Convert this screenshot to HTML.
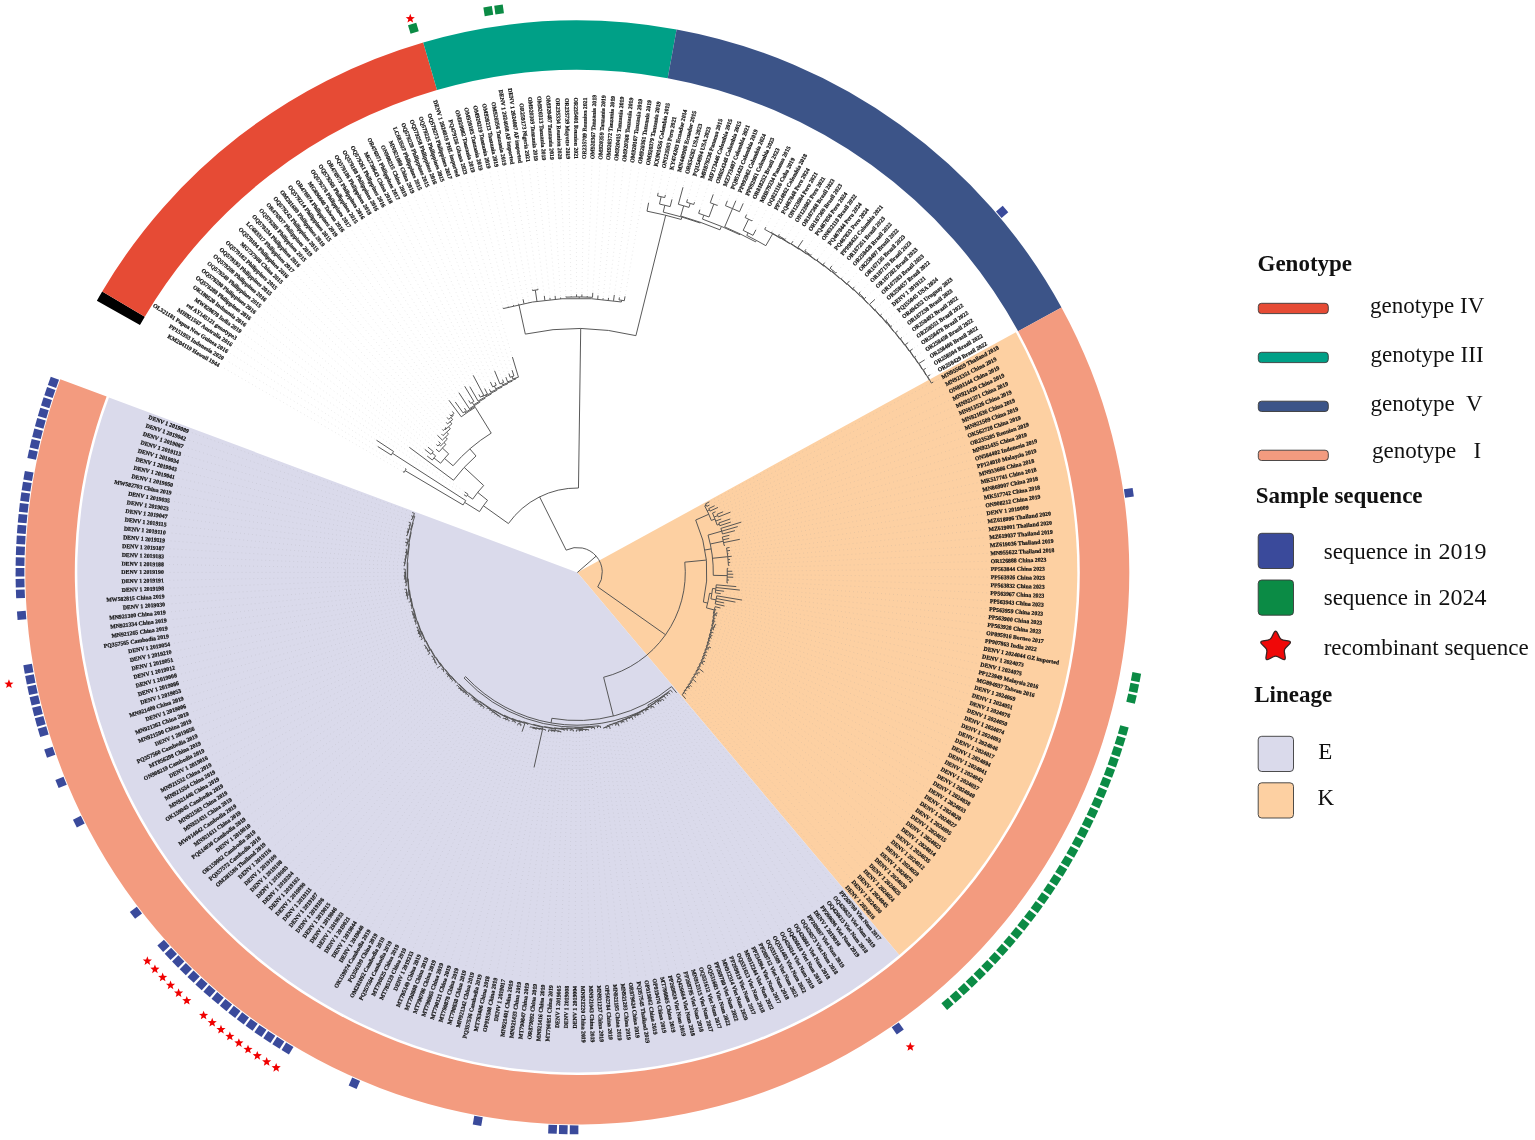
<!DOCTYPE html>
<html><head><meta charset="utf-8"><title>DENV-1 phylogenetic tree</title>
<style>
html,body{margin:0;padding:0;background:#fff;}
body{width:1535px;height:1140px;overflow:hidden;position:relative;}
svg{position:absolute;left:0;top:0;}
</style></head><body>
<svg width="1535" height="1140" viewBox="0 0 1535 1140">
<path d="M577.3,572.5 L1015.87,332.37 A500,500 0 0 1 899.27,955.04 Z" fill="#fdd0a2"/>
<path d="M577.3,572.5 L899.27,955.04 A500,500 0 0 1 108.96,397.4 Z" fill="#dadaeb"/>
<path d="M96.86,300.68 A552,552 0 0 1 102.21,291.45 L144.81,316.65 A502.5,502.5 0 0 0 139.95,325.06 Z" fill="#000000"/>
<path d="M102.21,291.45 A552,552 0 0 1 423.21,42.44 L437.02,89.98 A502.5,502.5 0 0 0 144.81,316.65 Z" fill="#e64b35"/>
<path d="M423.21,42.44 A552,552 0 0 1 676.61,29.51 L667.7,78.2 A502.5,502.5 0 0 0 437.02,89.98 Z" fill="#00a087"/>
<path d="M676.61,29.51 A552,552 0 0 1 1061.48,307.4 L1018.06,331.17 A502.5,502.5 0 0 0 667.7,78.2 Z" fill="#3c5488"/>
<path d="M1061.48,307.4 A552,552 0 1 1 60.26,379.19 L106.62,396.52 A502.5,502.5 0 1 0 1018.06,331.17 Z" fill="#f39b7f"/>
<path d="M401.59,470.84L221.99,366.92M404.02,467.72L226.03,360.09M376.48,445.7L230.2,353.34M375.21,439.37L234.5,346.67M462.72,493.8L238.93,340.09M463.45,491.02L243.48,333.6M408.12,446.41L248.16,327.19M425.99,455.12L252.96,320.88M423.62,448.45L257.88,314.66M426.81,446.14L262.93,308.53M434.85,448.12L268.09,302.51M435.24,443.54L273.36,296.58M437.42,440.5L278.75,290.76M436.35,434.24L284.25,285.04M440.35,432.87L289.86,279.43M441.24,428.31L295.58,273.93M444.37,426.05L301.4,268.55M445.17,421.16L307.32,263.27M446.08,416.21L313.35,258.11M448.88,413.39L319.47,253.07M451.43,410.24L325.69,248.15M447.99,398.98L332.01,243.35M454.4,400.74L338.42,238.67M463.53,406.84L344.91,234.11M458.04,391.45L351.49,229.69M467.87,399.16L358.16,225.39M463.94,385.01L364.91,221.22M469.04,385.36L371.74,217.18M478.09,393.11L378.64,213.27M472.47,373.98L385.62,209.5M483.96,387.15L392.67,205.86M488.8,387.96L399.79,202.36M489.77,380.57L406.98,199M494.36,380.89L414.23,195.78M494.01,369.42L421.54,192.7M501.97,378.22L428.9,189.76M505.34,375.7L436.33,186.97M508.39,372.13L443.8,184.31M511.6,368.73L451.33,181.81M511.97,355.63L458.9,179.44M502.68,306.26L466.52,177.23M507.92,305.16L474.18,175.16M513,303.48L481.88,173.24M518.21,302.28L489.61,171.48M522.76,297.76L497.38,169.86M528.77,300.6L505.17,168.39M532.18,288.06L512.99,167.07M537.69,287.24L520.84,165.9M544.14,294.37L528.71,164.89M549.78,296.37L536.59,164.02M555,294.39L544.5,163.31M560.5,296.01L552.41,162.76M565.82,295.04L560.33,162.35M571.18,294.87L568.26,162.1M576.55,292.9L576.19,162M581.95,292.94L584.13,162.06M587.3,294.58L592.06,162.27M592.86,291.33L599.98,162.63M598.12,293.98L607.9,163.14M603.28,296.72L615.8,163.81M608.71,296.38L623.69,164.63M614.51,293.47L631.56,165.6M619.64,295.92L639.42,166.73M625.3,294.92L647.25,168M648.91,201.24L655.05,169.43M658.49,191.35L662.82,171.01M665.73,193.48L670.57,172.74M672.37,197.88L678.27,174.61M683.43,185.8L685.94,176.64M687.94,197.9L693.57,178.81M694.94,200.77L701.16,181.13M700.38,208.23L708.7,183.6M713.75,192.99L716.19,186.21M718.1,203.45L723.63,188.97M727.98,199.38L731.01,191.87M736.46,199.32L738.34,194.91M743.84,202.01L745.61,198.09M747.25,213.16L752.81,201.41M753.05,218.75L759.95,204.87M756.62,228.42L767.02,208.47M766.59,225.81L774.02,212.2M772.73,230.45L780.94,216.07M780.1,232.95L787.79,220.08M786.41,237.27L794.56,224.21M793.78,239.95L801.25,228.47M803.7,238.99L807.86,232.86M806.85,248.03L814.38,237.38M812.46,253.36L820.81,242.03M818.96,257.47L827.15,246.79M825.63,261.42L833.4,251.68M832.96,264.63L839.55,256.69M837.6,271.08L845.6,261.82M842.91,276.69L851.56,267.06M850.53,279.79L857.41,272.42M855.54,285.74L863.16,277.89M861.43,290.77L868.8,283.47M867.03,296.12L874.33,289.15M876.08,298.31L879.75,294.95M876.9,308.04L885.05,300.84M882.84,313.13L890.25,306.84M888.13,318.81L895.32,312.94M893.09,324.77L900.28,319.13M898.9,330.1L905.11,325.42M903.2,336.6L909.83,331.8M909.42,341.74L914.42,338.27M913.95,348.11L918.88,344.83M917.07,355.4L923.21,351.47M925.98,359.08L927.42,358.2M927.05,367.61L931.5,365M931.59,374.04L935.44,371.89M934.51,381.38L939.25,378.84M710.71,501.12L939.25,378.84M710.9,504.31L942.92,385.88M715.97,505.06L946.46,392.98M719.34,506.79L949.86,400.14M716.92,511.16L953.12,407.37M724.54,511.17L956.24,414.67M731.93,511.57L959.22,422.02M722.67,518.44L962.06,429.43M731.72,518.45L964.75,436.89M732.26,521.6L967.3,444.4M742.77,521.67L969.7,451.96M739.2,526.17L971.96,459.57M736.39,530.28L974.07,467.22M730.87,534.91L976.03,474.9M730.69,538.08L977.84,482.63M741.32,539.01L979.5,490.38M726.49,545.03L981.01,498.17M731.04,547.26L982.38,505.99M731.5,550.23L983.59,513.83M729.92,553.46L984.64,521.69M733.24,556.1L985.55,529.57M731.54,559.29L986.3,537.47M731.76,562.27L986.9,545.38M730.93,565.3L987.35,553.3M729.74,568.31L987.65,561.22M733.79,571.22L987.79,569.16M734.79,574.26L987.77,577.09M734.73,577.3L987.61,585.02M730.61,580.15L987.29,592.95M729.44,583.04L986.82,600.86M737.77,586.74L986.19,608.77M741.34,590.25L985.42,616.67M725.59,591.45L984.49,624.55M722.23,593.88L983.41,632.4M743.59,600.32L982.17,640.24M736.93,602.39L980.79,648.05M725.65,603.26L979.25,655.83M726,606.34L977.57,663.59M721.92,608.36L975.73,671.3M717.65,610.2L973.75,678.99M718.99,613.51L971.62,686.63M718.4,616.31L969.34,694.22M716.8,618.79L966.91,701.78M716.66,621.75L964.34,709.28M717.63,625.17L961.63,716.74M716.58,627.87L958.77,724.14M715.43,630.52L955.77,731.48M714.83,633.42L952.62,738.76M713.78,636.14L949.34,745.98M712.96,638.98L945.92,753.14M711.68,641.61L942.36,760.23M711.05,644.58L938.66,767.25M712.26,648.64L934.83,774.2M709.83,650.68L930.87,781.07M708.54,653.38L926.77,787.86M708.03,656.59L922.54,794.57M706.72,659.33L918.19,801.2M706.33,662.73L913.7,807.75M704.82,665.4L909.1,814.21M702.3,667.31L904.36,820.57M704.67,673.04L899.51,826.85M701.03,674.11L894.53,833.03M698.74,676.23L889.44,839.11M696.91,678.73L884.23,845.09M697.27,683.27L878.9,850.97M693.47,684L873.47,856.75M692.75,687.67L867.92,862.42M690.55,689.92L862.26,867.98M687.94,691.75L856.5,873.43M686.93,695.34L850.63,878.77M686.66,699.91L844.66,883.99M677.55,693.97L838.59,889.1M673.37,693.6L832.43,894.09M670.99,695.41L826.16,898.96M668.64,697.25L819.81,903.71M666.75,699.75L813.36,908.33M664.73,702.14L806.83,912.83M661.64,702.92L800.21,917.2M659.67,705.45L793.51,921.45M656.63,706.24L786.72,925.56M654.96,709.38L779.86,929.54M651.77,709.89L772.93,933.39M649.17,711.44L765.91,937.1M646.48,712.8L758.83,940.68M644.16,714.97L751.69,944.12M641.27,715.96L744.47,947.42M638.62,717.49L737.2,950.58M635.97,719.05L729.86,953.6M633.5,721.15L722.47,956.48M629.99,720.46L715.02,959.21M627.7,723.16L707.52,961.8M624.7,723.86L699.97,964.24M621.76,724.75L692.38,966.54M619.38,727.67L684.75,968.69M616.04,727.11L677.07,970.69M612.84,726.96L669.36,972.54M610.44,730.41L661.61,974.25M607.17,729.9L653.83,975.8M604.07,730.16L646.02,977.21M600.85,729.52L638.19,978.46M597.76,729.58L630.33,979.56M594.82,730.78L622.46,980.51M591.68,730.21L614.56,981.31M588.75,732.15L606.66,981.95M585.65,732.23L598.74,982.44M582.58,732.66L590.81,982.78M579.48,733.04L582.88,982.96M576.38,733.22L574.95,982.99M573.28,733L567.02,982.87M570.2,732.31L559.09,982.6M567.09,732.56L551.17,982.17M563.99,732.43L543.26,981.59M560.71,734.04L535.36,980.85M557.59,733.69L527.47,979.96M554.44,733.57L519.61,978.93M551.33,733.1L511.77,977.74M548.08,733.39L503.95,976.39M545.1,732.17L496.16,974.9M533.73,768.92L488.4,973.26M538.82,731.39L480.67,971.46M535.6,731.19L472.98,969.52M532.54,730.36L465.32,967.43M529.59,729.18L457.71,965.2M527.2,726.28L450.15,962.81M521.5,733.16L442.63,960.28M520.07,727.54L435.16,957.61M516.95,726.78L427.75,954.79M514.39,724.58L420.39,951.83M511.5,723.25L413.09,948.72M508.23,722.75L405.85,945.48M505.21,721.66L398.67,942.1M502.34,720.24L391.56,938.58M499.33,719.08L384.52,934.92M496.51,717.55L377.55,931.13M493.85,715.75L370.66,927.2M490.84,714.53L363.85,923.14M488.73,711.86L357.11,918.95M485.88,710.39L350.46,914.63M482.37,709.84L343.89,910.18M479.65,708.1L337.41,905.61M477.3,705.85L331.01,900.91M474.86,703.73L324.71,896.09M472.35,701.73L318.51,891.15M470.06,699.45L312.4,886.09M466.94,698.14L306.39,880.91M464.77,695.72L300.48,875.62M462,693.95L294.67,870.21M459.46,691.92L288.97,864.69M457.18,689.62L283.38,859.07M455.37,686.86L277.9,853.34M453.64,684.08L272.53,847.5M450.51,682.53L267.27,841.56M448.59,679.91L262.13,835.51M446.03,677.81L257.1,829.38M444.54,674.86L252.2,823.14M441.96,672.73L247.42,816.81M440.05,670.1L242.76,810.39M435.94,668.97L238.22,803.88M434.64,665.86L233.82,797.29M432.71,663.18L229.54,790.61M431.4,660.12L225.39,783.85M429.99,657.14L221.37,777.01M426.54,655.29L217.48,770.09M425.81,651.92L213.73,763.1M424.03,649.11L210.12,756.04M422.54,646.15L206.64,748.91M422.86,642.37L203.3,741.71M419.43,640.28L200.1,734.45M417.54,637.47L197.04,727.13M416.35,634.36L194.12,719.76M415.53,631.11L191.35,712.33M415,627.78L188.72,704.84M413.74,624.7L186.23,697.31M412.58,621.58L183.89,689.73M411.39,618.47L181.7,682.1M410.74,615.2L179.66,674.44M409.95,611.97L177.76,666.74M409.65,608.64L176.02,659M408.98,605.39L174.42,651.23M407.18,602.34L172.97,643.43M405.4,599.24L171.68,635.6M404.32,596L170.54,627.75M403.88,592.65L169.54,619.88M402.82,589.36L168.7,611.99M403.72,585.9L168.02,604.09M403.2,582.56L167.48,596.17M402.28,579.22L167.1,588.25M402.18,575.84L166.87,580.32M402.45,572.45L166.8,572.39M401.98,569.06L166.88,564.45M402.07,565.68L167.11,556.52M401.99,562.28L167.5,548.6M402.76,558.93L168.03,540.69M403.35,555.59L168.73,532.78M403.71,552.23L169.57,524.9M404.14,548.88L170.57,517.03M404.21,545.48L171.71,509.18M403.58,541.93L173.01,501.35M404.43,538.62L174.46,493.55M404.72,535.2L176.06,485.78M405.18,531.8L177.81,478.04M406,528.49L179.71,470.34M407.17,525.26L181.76,462.68M407.26,521.73L183.96,455.06M409.59,518.87L186.3,447.48M409.74,515.33L188.79,439.94M410.7,512.04L191.42,432.46" fill="none" stroke="#9a9a9a" stroke-opacity="0.35" stroke-width="0.7" stroke-dasharray="0.8 3.2"/>
<path d="M577.3,572.5L596.17,556.1M566.15,550.13A25,25 0 0 1 597.73,586.91M566.15,550.13L539.6,496.88M508.42,523.55A84.5,84.5 0 0 1 578.48,488.01M508.42,523.55L483.4,505.77M479.5,511.62A115.2,115.2 0 0 1 487.52,500.32M479.5,511.62L464.64,502.38M463.09,504.94A132.7,132.7 0 0 1 465.78,500.57M463.09,504.94L405.16,470.67M404.19,472.34A200,200 0 0 1 406.16,469.01M404.19,472.34L402.89,471.59M406.16,469.01L405.3,468.49M465.78,500.57L392.42,453.25M391.28,455.05A220,220 0 0 1 393.58,451.47M391.28,455.05L377.75,446.5M393.58,451.47L376.46,440.2M487.52,500.32L477.7,492.42M472.66,499.13A127.8,127.8 0 0 1 483.68,485.5M472.66,499.13L467.25,495.34M466.51,496.41A134.4,134.4 0 0 1 468.01,494.28M466.51,496.41L463.96,494.65M468.01,494.28L464.67,491.9M483.68,485.5L464.2,467.4M453.5,480.23A154.4,154.4 0 0 1 476,455.97M453.5,480.23L409.32,447.31M476,455.97L469.84,448.88M453.05,465.76A163.8,163.8 0 0 1 491.23,433.14M453.05,465.76L444.56,458.46M440.6,463.24A175,175 0 0 1 448.68,453.83M440.6,463.24L433.96,457.93M432.32,460.02A183.5,183.5 0 0 1 435.64,455.87M432.32,460.02L427.18,456.04M435.64,455.87L432.16,453.01M431.01,454.41A188,188 0 0 1 433.32,451.61M431.01,454.41L424.79,449.39M433.32,451.61L427.96,447.11M448.68,453.83L442.43,448.07M439.08,451.81A183.5,183.5 0 0 1 445.9,444.42M439.08,451.81L435.98,449.11M445.9,444.42L443.93,442.5M440.61,445.98A186.25,186.25 0 0 1 447.33,439.1M440.61,445.98L439.19,444.66M437.96,446A188.2,188.2 0 0 1 440.43,443.33M437.96,446L436.35,444.54M440.43,443.33L438.51,441.53M447.33,439.1L445.41,437.13M442.38,440.15A189,189 0 0 1 448.51,434.18M442.38,440.15L437.42,435.29M448.51,434.18L446.63,432.16M443.03,435.6A191.75,191.75 0 0 1 450.32,428.82M443.03,435.6L441.4,433.94M450.32,428.82L448.5,426.76M445.19,429.75A194.5,194.5 0 0 1 451.88,423.84M445.19,429.75L444.66,429.18M443.28,430.47A195.28,195.28 0 0 1 446.05,427.91M443.28,430.47L442.27,429.4M446.05,427.91L445.38,427.17M451.88,423.84L450.1,421.74M447.57,423.91A197.25,197.25 0 0 1 452.67,419.61M447.57,423.91L446.16,422.29M452.67,419.61L450.93,417.48M448.7,419.33A200,200 0 0 1 453.19,415.66M448.7,419.33L447.05,417.36M453.19,415.66L452.46,414.74M450.94,415.95A201.18,201.18 0 0 1 453.99,413.54M450.94,415.95L449.82,414.56M453.99,413.54L452.35,411.42M491.23,433.14L475.25,407.27M461.26,416.78A194.2,194.2 0 0 1 475.25,407.27M461.26,416.78L448.89,400.18M470.65,410.2L470.12,409.38M465.26,412.68A195.18,195.18 0 0 1 475.07,406.23M465.26,412.68L464.64,411.8M463.09,412.9A196.26,196.26 0 0 1 466.2,410.72M463.09,412.9L455.27,401.96M466.2,410.72L464.38,408.07M475.07,406.23L474.56,405.4M469.4,408.68A196.16,196.16 0 0 1 479.82,402.27M469.4,408.68L458.87,392.7M479.82,402.27L479.33,401.42M473.68,404.79A197.14,197.14 0 0 1 485.1,398.25M473.68,404.79L472.21,402.42M470.57,403.45A199.92,199.92 0 0 1 473.86,401.42M470.57,403.45L468.67,400.43M473.86,401.42L464.71,386.29M485.1,398.25L484.64,397.38M478.09,401.01A198.12,198.12 0 0 1 491.33,394M478.09,401.01L469.79,386.66M491.33,394L490.91,393.12M485.18,395.99A199.1,199.1 0 0 1 496.72,390.44M485.18,395.99L484.83,395.31M482.27,396.67A199.87,199.87 0 0 1 487.41,393.99M482.27,396.67L482.03,396.23M480.33,397.16A200.37,200.37 0 0 1 483.74,395.32M480.33,397.16L478.82,394.42M483.74,395.32L473.17,375.3M487.41,393.99L484.64,388.49M496.72,390.44L496.32,389.54M490.78,392.09A200.08,200.08 0 0 1 501.94,387.16M490.78,392.09L489.44,389.31M501.94,387.16L501.57,386.25M495.65,388.77A201.06,201.06 0 0 1 507.57,383.92M495.65,388.77L494.43,386.03M492.63,386.84A204.05,204.05 0 0 1 496.24,385.24M492.63,386.84L490.4,381.93M496.24,385.24L494.95,382.27M507.57,383.92L507.23,383M502.45,384.84A202.04,202.04 0 0 1 512.06,381.28M502.45,384.84L501.78,383.17M499.95,383.91A203.84,203.84 0 0 1 503.61,382.45M499.95,383.91L494.58,370.8M503.61,382.45L502.52,379.62M512.06,381.28L511.74,380.36M507.58,381.83A203.02,203.02 0 0 1 515.93,378.98M507.58,381.83L505.86,377.11M515.93,378.98L515.64,378.04M512.83,378.96A204,204 0 0 1 518.46,377.17M512.83,378.96L512.05,376.62M510.16,377.26A206.47,206.47 0 0 1 513.94,375.99M510.16,377.26L508.88,373.55M513.94,375.99L512.06,370.16M518.46,377.17L512.41,357.06M578.48,488.01L580.71,328.52M525.32,334.1A244,244 0 0 1 635.92,335.65M525.32,334.1L518.91,304.69M503.33,308.57A274.1,274.1 0 0 1 621.39,301.97M503.33,308.57L503.09,307.7M508.44,307.19L508.29,306.61M513.58,305.91L513.35,304.94M518.75,304.73L518.53,303.75M523.93,303.65L523.06,299.23M529.14,302.66L529.03,302.07M536.98,301.38L535.3,290.11M532.58,290.52A285.5,285.5 0 0 1 538.03,289.71M532.58,290.52L532.42,289.54M538.03,289.71L537.9,288.72M544.85,300.33L544.32,295.86M550.12,299.75L549.93,297.86M555.4,299.28L555.12,295.89M560.68,298.9L560.59,297.51M579.21,298.41L579.22,296.91M565.91,297.14A275.6,275.6 0 0 1 592.53,297.32M565.91,297.14L565.88,296.54M571.23,296.97L571.22,296.37M576.56,296.9L576.55,294.4M581.88,296.94L581.92,294.44M587.21,297.08L587.24,296.08M592.53,297.32L592.78,292.83M597.73,299.16L598.01,295.47M603.01,299.61L603.14,298.21M608.28,300.16L608.54,297.87M613.53,300.81L614.31,294.96M621.39,301.97L621.67,300.29M619.03,299.88A275.8,275.8 0 0 1 624.29,300.73M619.03,299.88L619.41,297.4M624.29,300.73L625.04,296.4M635.92,335.65L665.7,215.28M647,211.16A368,368 0 0 1 681.21,219.47M647,211.16L648.63,202.72M681.21,219.47L681.91,217.08M663.22,212.1A370.5,370.5 0 0 1 700.32,223.02M663.22,212.1L664.84,205.29M659.51,204.06A377.5,377.5 0 0 1 670.16,206.6M659.51,204.06L661.15,196.74M657.51,195.95A385,385 0 0 1 664.77,197.57M657.51,195.95L658.18,192.82M664.77,197.57L665.39,194.94M670.16,206.6L672,199.33M700.32,223.02L700.55,222.36M680.72,216A371.2,371.2 0 0 1 720,229.83M680.72,216L683.67,205.82M678.35,204.31A381.8,381.8 0 0 1 688.98,207.4M678.35,204.31L683.03,187.25M688.98,207.4L690.21,203.38M686.63,202.31A386,386 0 0 1 693.77,204.49M686.63,202.31L687.51,199.34M693.77,204.49L694.49,202.2M720,229.83L721.42,226.41M702.44,219.1A374.9,374.9 0 0 1 739.98,234.74M702.44,219.1L703.84,215.14M698.65,213.35A379.1,379.1 0 0 1 709.01,217.01M698.65,213.35L699.9,209.65M709.01,217.01L713.8,204.07M710.24,202.77A392.9,392.9 0 0 1 717.36,205.41M710.24,202.77L713.25,194.4M717.36,205.41L717.57,204.85M739.98,234.74L740.33,234.02M724.69,226.92A375.7,375.7 0 0 1 755.63,241.82M724.69,226.92L732.49,208.61M725.43,205.68A395.6,395.6 0 0 1 739.5,211.68M725.43,205.68L727.42,200.77M732.49,208.61L735.87,200.7M739.5,211.68L743.23,203.38M755.63,241.82L756.39,240.41M746.81,235.42A377.3,377.3 0 0 1 765.83,245.68M746.81,235.42L748.11,232.83M743.17,230.39A380.2,380.2 0 0 1 753.01,235.34M743.17,230.39L748.58,219.23M745.16,217.59A392.6,392.6 0 0 1 751.98,220.9M745.16,217.59L746.61,214.52M751.98,220.9L752.38,220.1M753.01,235.34L755.93,229.75M765.83,245.68L772.67,233.81M764.67,229.32A391,391 0 0 1 780.56,238.49M764.67,229.32L765.87,227.12M780.56,238.49L780.79,238.11M771.49,232.63A391.44,391.44 0 0 1 789.94,243.86M771.49,232.63L771.98,231.76M789.94,243.86L790.18,243.49M781.48,238.02A391.88,391.88 0 0 1 798.73,249.18M781.48,238.02L781.76,237.57M778.51,235.61A392.41,392.41 0 0 1 784.99,239.56M778.51,235.61L779.33,234.24M784.99,239.56L785.62,238.55M798.73,249.18L798.98,248.82M791.33,243.71A392.31,392.31 0 0 1 806.5,254.1M791.33,243.71L792.97,241.2M806.5,254.1L806.75,253.75M797.89,247.55A392.75,392.75 0 0 1 815.44,260.19M797.89,247.55L802.86,240.23M815.44,260.19L815.71,259.84M807.47,253.73A393.19,393.19 0 0 1 823.78,266.16M807.47,253.73L807.9,253.13M804.81,250.92A393.92,393.92 0 0 1 810.98,255.37M804.81,250.92L805.98,249.26M810.98,255.37L811.57,254.57M823.78,266.16L824.06,265.82M816.88,260.18A393.62,393.62 0 0 1 831.1,271.63M816.88,260.18L818.05,258.66M831.1,271.63L831.38,271.29M823.14,264.53A394.06,394.06 0 0 1 839.44,278.28M823.14,264.53L824.69,262.59M839.44,278.28L839.73,277.95M832.25,271.45A394.5,394.5 0 0 1 847.05,284.63M832.25,271.45L832.97,270.6M830.04,268.14A395.62,395.62 0 0 1 835.88,273.08M830.04,268.14L832,265.78M835.88,273.08L836.62,272.22M847.05,284.63L847.34,284.31M841.16,278.64A394.94,394.94 0 0 1 853.41,290.12M841.16,278.64L841.91,277.8M853.41,290.12L853.71,289.8M847.09,283.47A395.38,395.38 0 0 1 860.19,296.29M847.09,283.47L849.51,280.88M860.19,296.29L860.5,295.98M852.93,288.43A395.81,395.81 0 0 1 867.87,303.73M852.93,288.43L854.49,286.82M867.87,303.73L868.19,303.44M861.36,296.23A396.25,396.25 0 0 1 874.84,310.81M861.36,296.23L861.73,295.87M859.04,293.13A396.77,396.77 0 0 1 864.39,298.63M859.04,293.13L860.37,291.82M864.39,298.63L865.94,297.15M874.84,310.81L875.17,310.52M869.57,304.28A396.69,396.69 0 0 1 880.64,316.87M869.57,304.28L874.97,299.33M880.64,316.87L880.98,316.59M875.03,309.69A397.12,397.12 0 0 1 886.77,323.62M875.03,309.69L875.78,309.03M886.77,323.62L887.11,323.35M880.38,315.21A397.56,397.56 0 0 1 893.61,331.66M880.38,315.21L881.69,314.1M893.61,331.66L893.96,331.4M888.05,323.83A398,398 0 0 1 899.68,339.1M888.05,323.83L888.36,323.59M885.94,320.59A398.39,398.39 0 0 1 890.75,326.6M885.94,320.59L886.97,319.76M890.75,326.6L891.91,325.69M899.68,339.1L900.04,338.85M895.48,332.68A398.44,398.44 0 0 1 904.47,345.1M895.48,332.68L897.7,331M904.47,345.1L904.83,344.85M900.41,338.62A398.88,398.88 0 0 1 909.14,351.18M900.41,338.62L901.98,337.48M909.14,351.18L909.5,350.93M905.23,344.65A399.31,399.31 0 0 1 913.66,357.29M905.23,344.65L908.19,342.59M913.66,357.29L914.03,357.06M909.93,350.79A399.75,399.75 0 0 1 918,363.4M909.93,350.79L912.71,348.94M918,363.4L918.37,363.17M914.52,357.02A400.19,400.19 0 0 1 922.11,369.38M914.52,357.02L915.8,356.21M922.11,369.38L922.49,369.16M919,363.35A400.62,400.62 0 0 1 925.87,375.03M919,363.35L924.7,359.86M925.87,375.03L926.26,374.81M923.35,369.77A401.06,401.06 0 0 1 929.08,379.89M923.35,369.77L925.76,368.36M929.08,379.89L929.47,379.68M927.59,376.28A401.5,401.5 0 0 1 931.31,383.09M927.59,376.28L930.28,374.78M931.31,383.09L933.18,382.09M597.73,586.91L665.55,634.75M684.8,562.15A108,108 0 0 1 603.61,677.25M684.8,562.15L706.2,560.09M695.7,520.03A129.5,129.5 0 0 1 703.38,602.07M695.7,520.03L708.77,514.24M704.74,505.89A143.8,143.8 0 0 1 711.34,520.43M704.74,505.89L706.16,505.15M705.5,503.91A145.4,145.4 0 0 1 706.81,506.4M705.5,503.91L709.38,501.83M706.81,506.4L709.57,504.99M707.22,510.86L709.39,509.84M708.78,508.56A146.2,146.2 0 0 1 709.99,511.11M708.78,508.56L714.62,505.72M709.99,511.11L717.98,507.42M711.34,520.43L714.98,519.02M712.52,513.09A147.7,147.7 0 0 1 717.17,525.06M712.52,513.09L715.54,511.76M714.19,517.03L717.71,515.6M717.15,514.25A151.5,151.5 0 0 1 718.25,516.96M717.15,514.25L723.15,511.75M718.25,516.96L730.53,512.12M715.74,521.02L721.27,518.97M717.17,525.06L719.35,524.32M718.88,522.95A150,150 0 0 1 719.81,525.69M718.88,522.95L730.3,518.95M719.81,525.69L730.83,522.07M704.83,550.01L711.23,548.88M708.05,535.09A136,136 0 0 1 713.27,575.33M708.05,535.09L721.7,531.18M720.88,528.4A150.2,150.2 0 0 1 722.48,533.98M720.88,528.4L741.34,522.11M721.7,531.18L737.76,526.58M722.48,533.98L734.94,530.67M710.28,544.01L723.29,541.22M722.32,537A149.3,149.3 0 0 1 724.13,545.47M722.32,537L729.41,535.27M722.98,539.81L729.22,538.41M723.58,542.63L739.85,539.31M724.13,545.47L725.02,545.3M712.55,558.28L727.77,556.68M726.6,547.98A151.3,151.3 0 0 1 728.43,565.42M726.6,547.98L729.56,547.5M727.05,550.87L730.02,550.45M727.44,553.77L728.43,553.65M727.77,556.68L731.75,556.26M728.05,559.59L730.04,559.42M728.27,562.5L730.26,562.37M728.43,565.42L729.43,565.38M713.27,575.33L727.27,575.63M727.24,568.38A150,150 0 0 1 726.94,582.86M727.24,568.38L728.24,568.35M727.3,571.28L732.29,571.24M727.29,574.18L733.29,574.24M727.23,577.07L733.23,577.26M727.11,579.97L729.11,580.07M726.94,582.86L727.94,582.93M703.38,602.07L707.66,603.08M709.57,593.32A133.9,133.9 0 0 1 706.45,607.85M709.57,593.32L711.84,593.68M712.56,588.46A136.2,136.2 0 0 1 710.92,598.86M712.56,588.46L715.84,588.85M716.25,584.83A139.5,139.5 0 0 1 715.31,592.86M716.25,584.83L736.28,586.6M715.99,587.51L739.85,590.09M715.67,590.19L724.11,591.26M715.31,592.86L720.75,593.66M710.92,598.86L716.03,599.87M716.76,595.83A141.4,141.4 0 0 1 715.18,603.88M716.76,595.83L742.11,600.07M716.28,598.52L735.45,602.11M715.76,601.21L724.18,602.95M715.18,603.88L724.54,606.01M706.45,607.85L714.26,609.98M715.13,606.68A142,142 0 0 1 713.32,613.27M715.13,606.68L720.47,608M713.32,613.27L714.11,613.51M715.24,609.55A142.83,142.83 0 0 1 712.88,617.43M715.24,609.55L716.2,609.81M712.88,617.43L713.66,617.69M714.9,613.77A143.65,143.65 0 0 1 712.31,621.57M714.9,613.77L716.01,614.1M716.4,612.76A144.81,144.81 0 0 1 715.6,615.44M716.4,612.76L717.55,613.09M715.6,615.44L716.97,615.87M712.31,621.57L713.09,621.85M714.43,618A144.48,144.48 0 0 1 711.64,625.66M714.43,618L715.38,618.32M711.64,625.66L712.41,625.96M714.3,620.92A145.3,145.3 0 0 1 710.34,630.93M714.3,620.92L715.24,621.25M710.34,630.93L711.09,631.27M712.83,627.14A146.13,146.13 0 0 1 709.23,635.34M712.83,627.14L713.72,627.49M714.5,625.51A147.09,147.09 0 0 1 712.91,629.46M714.5,625.51L714.78,625.62M715.29,624.29A147.39,147.39 0 0 1 714.26,626.94M715.29,624.29L716.22,624.64M714.26,626.94L715.19,627.31M712.91,629.46L714.05,629.94M709.23,635.34L709.97,635.7M711.66,632.02A146.96,146.96 0 0 1 708.18,639.33M711.66,632.02L713.45,632.81M708.18,639.33L708.92,639.7M710.63,636.25A147.78,147.78 0 0 1 707.12,643.12M710.63,636.25L710.91,636.38M711.52,635.09A148.09,148.09 0 0 1 710.28,637.67M711.52,635.09L712.42,635.51M710.28,637.67L711.61,638.32M707.12,643.12L707.85,643.51M709.46,640.46A148.61,148.61 0 0 1 706.16,646.52M709.46,640.46L710.35,640.92M706.16,646.52L706.88,646.93M708.85,643.4A149.43,149.43 0 0 1 704.82,650.41M708.85,643.4L709.73,643.87M704.82,650.41L705.52,650.84M707.45,647.59A150.26,150.26 0 0 1 703.51,654.05M707.45,647.59L708.41,648.15M709.14,646.88A151.37,151.37 0 0 1 707.68,649.41M709.14,646.88L710.96,647.9M707.68,649.41L708.54,649.92M703.51,654.05L704.2,654.5M705.92,651.77A151.09,151.09 0 0 1 702.42,657.19M705.92,651.77L707.26,652.59M702.42,657.19L703.1,657.65M705.06,654.68A151.91,151.91 0 0 1 701.07,660.58M705.06,654.68L706.77,655.78M701.07,660.58L701.75,661.06M704.14,657.6A152.74,152.74 0 0 1 699.26,664.45M704.14,657.6L705.47,658.49M699.26,664.45L699.92,664.94M702.29,661.72A153.57,153.57 0 0 1 697.47,668.11M702.29,661.72L702.87,662.13M703.73,660.91A154.27,154.27 0 0 1 701.99,663.34M703.73,660.91L705.1,661.87M701.99,663.34L703.61,664.52M697.47,668.11L698.12,668.62M700.31,665.8A154.39,154.39 0 0 1 695.86,671.39M700.31,665.8L701.11,666.41M695.86,671.39L696.5,671.92M699.13,668.67A155.22,155.22 0 0 1 693.77,675.1M699.13,668.67L703.49,672.12M693.77,675.1L694.39,675.64M696.93,672.69A156.04,156.04 0 0 1 691.79,678.53M696.93,672.69L697.82,673.44M698.79,672.27A157.21,157.21 0 0 1 696.84,674.6M698.79,672.27L699.87,673.16M696.84,674.6L697.6,675.25M691.79,678.53L692.4,679.09M694.59,676.67A156.87,156.87 0 0 1 690.15,681.46M694.59,676.67L695.79,677.73M690.15,681.46L690.74,682.04M693.16,679.48A157.7,157.7 0 0 1 688.27,684.54M693.16,679.48L696.17,682.25M688.27,684.54L688.85,685.13M691.67,682.27A158.52,158.52 0 0 1 685.96,687.92M691.67,682.27L692.39,682.96M685.96,687.92L686.52,688.53M689.02,686.12A159.35,159.35 0 0 1 683.98,690.87M689.02,686.12L689.51,686.63M690.61,685.54A160.05,160.05 0 0 1 688.41,687.71M690.61,685.54L691.68,686.61M688.41,687.71L689.5,688.85M683.98,690.87L684.53,691.49M686.24,689.92A160.17,160.17 0 0 1 682.79,693.03M686.24,689.92L686.92,690.65M682.79,693.03L683.34,693.65M684.5,692.62A161,161 0 0 1 682.16,694.67M684.5,692.62L685.93,694.22M682.16,694.67L685.68,698.77M603.61,677.25L613.36,716.04M671.51,686.65A148,148 0 0 1 551.85,718.3M671.51,686.65L676.6,692.82M551.85,718.3L551.05,722.93M648.99,707.33A152.7,152.7 0 0 1 465.62,676.64M648.99,707.33L647.81,705.12M670.65,690.17A150.2,150.2 0 0 1 647.81,705.12M670.65,690.17L672.44,692.43M663.1,695.78L663.35,696.15M667.47,693.18A150.65,150.65 0 0 1 659.14,698.98M667.47,693.18L667.73,693.53M668.89,692.65A151.08,151.08 0 0 1 666.56,694.4M668.89,692.65L670.09,694.22M666.56,694.4L667.76,696.04M659.14,698.98L659.38,699.35M664.19,696.11A151.09,151.09 0 0 1 654.45,702.41M664.19,696.11L665.89,698.53M654.45,702.41L654.68,702.79M658.97,700.15A151.54,151.54 0 0 1 650.3,705.3M658.97,700.15L659.5,700.97M661.35,699.76A152.52,152.52 0 0 1 657.63,702.15M661.35,699.76L661.52,700.01M662.75,699.19A152.82,152.82 0 0 1 660.28,700.82M662.75,699.19L663.89,700.9M660.28,700.82L660.83,701.66M657.63,702.15L658.88,704.17M650.3,705.3L650.51,705.69M654.84,703.22A151.98,151.98 0 0 1 646.11,708.02M654.84,703.22L655.87,704.95M646.11,708.02L646.31,708.41M651.23,705.8A152.43,152.43 0 0 1 641.3,710.85M651.23,705.8L651.89,706.98M653.18,706.25A153.78,153.78 0 0 1 650.58,707.69M653.18,706.25L654.22,708.08M650.58,707.69L651.06,708.57M641.3,710.85L641.48,711.25M646.23,708.96A152.88,152.88 0 0 1 636.66,713.38M646.23,708.96L646.7,709.89M648.03,709.22A153.93,153.93 0 0 1 645.37,710.56M648.03,709.22L648.49,710.1M645.37,710.56L645.81,711.45M636.66,713.38L636.83,713.79M642.43,711.3A153.32,153.32 0 0 1 631.14,716.06M642.43,711.3L643.52,713.62M631.14,716.06L631.3,716.48M636.51,714.41A153.77,153.77 0 0 1 626.01,718.35M636.51,714.41L636.7,714.88M638.76,714A154.27,154.27 0 0 1 634.63,715.72M638.76,714L638.88,714.28M640.25,713.67A154.57,154.57 0 0 1 637.51,714.86M640.25,713.67L640.66,714.59M637.51,714.86L638.04,716.11M634.63,715.72L635.41,717.66M626.01,718.35L626.15,718.77M630.44,717.27A154.22,154.22 0 0 1 621.83,720.15M630.44,717.27L630.56,717.6M631.96,717.08A154.56,154.56 0 0 1 629.16,718.11M631.96,717.08L632.97,719.75M629.16,718.11L629.49,719.05M621.83,720.15L621.96,720.57M626.36,719.17A154.66,154.66 0 0 1 617.51,721.84M626.36,719.17L627.22,721.74M617.51,721.84L617.63,722.27M622.22,720.96A155.11,155.11 0 0 1 613,723.44M622.22,720.96L622.51,721.92M623.95,721.47A156.11,156.11 0 0 1 621.06,722.35M623.95,721.47L624.25,722.43M621.06,722.35L621.34,723.31M613,723.44L613.1,723.88M616.56,723.02A155.55,155.55 0 0 1 609.62,724.66M616.56,723.02L616.83,724.04M618.29,723.65A156.61,156.61 0 0 1 615.36,724.42M618.29,723.65L618.99,726.23M615.36,724.42L615.67,725.66M609.62,724.66L609.71,725.1M612.28,724.53A156,156 0 0 1 607.12,725.62M612.28,724.53L612.51,725.5M607.12,725.62L607.34,726.72M609.57,726.26A157.11,157.11 0 0 1 605.1,727.14M609.57,726.26L610.13,728.94M605.1,727.14L605.15,727.43M606.65,727.15A157.41,157.41 0 0 1 603.65,727.69M606.65,727.15L606.89,728.43M603.65,727.69L603.82,728.68M465.62,676.64L464.09,678.07M598.78,725.8A154.8,154.8 0 0 1 464.09,678.07M598.78,725.8L598.85,726.27M600.33,726.05A155.27,155.27 0 0 1 597.36,726.47M600.33,726.05L600.63,728.04M597.36,726.47L597.57,728.09M583.74,727.17L583.76,727.72M592.9,727.07A155.35,155.35 0 0 1 574.61,727.83M592.9,727.07L592.95,727.57M594.45,727.41A155.86,155.86 0 0 1 591.45,727.72M594.45,727.41L594.65,729.29M591.45,727.72L591.54,728.71M574.61,727.83L574.6,728.39M582.81,728.31A155.91,155.91 0 0 1 566.4,728.03M582.81,728.31L582.85,729.55M587.02,729.34A157.15,157.15 0 0 1 578.68,729.64M587.02,729.34L587.04,729.64M588.56,729.54A157.45,157.45 0 0 1 585.52,729.73M588.56,729.54L588.64,730.65M585.52,729.73L585.58,730.73M578.68,729.64L578.68,729.94M580.96,729.9A157.45,157.45 0 0 1 576.4,729.94M580.96,729.9L580.97,730.2M582.49,730.16A157.75,157.75 0 0 1 579.45,730.23M582.49,730.16L582.53,731.16M579.45,730.23L579.46,731.54M576.4,729.94L576.39,731.72M566.4,728.03L566.36,728.58M571.87,728.87A156.46,156.46 0 0 1 560.87,728.1M571.87,728.87L571.83,729.87M573.36,729.92A157.47,157.47 0 0 1 570.31,729.81M573.36,729.92L573.32,731.51M570.31,729.81L570.27,730.81M560.87,728.1L560.81,728.65M567.3,729.2A157.02,157.02 0 0 1 554.34,727.83M567.3,729.2L567.19,731.06M554.34,727.83L554.26,728.38M564.23,729.53A157.57,157.57 0 0 1 544.38,726.6M564.23,729.53L564.12,730.93M544.38,726.6L544.26,727.14M555.46,729.11A158.13,158.13 0 0 1 533.24,724.37M555.46,729.11L555.25,730.56M559.46,731.09A159.59,159.59 0 0 1 551.06,729.92M559.46,731.09L559.43,731.39M560.96,731.55A159.89,159.89 0 0 1 557.89,731.21M560.96,731.55L560.86,732.55M557.89,731.21L557.77,732.2M551.06,729.92L551.01,730.21M553.3,730.58A159.89,159.89 0 0 1 548.73,729.81M553.3,730.58L553.26,730.87M554.79,731.1A160.19,160.19 0 0 1 551.73,730.63M554.79,731.1L554.65,732.09M551.73,730.63L551.57,731.62M548.73,729.81L548.35,731.92M533.24,724.37L533.09,724.9M542.84,727.4A158.68,158.68 0 0 1 523.51,721.79M542.84,727.4L542.47,729.05M545.6,729.71A160.38,160.38 0 0 1 539.36,728.33M545.6,729.71L545.4,730.69M539.36,728.33L539.29,728.62M542.5,729.37A160.68,160.68 0 0 1 536.09,727.8M542.5,729.37L534.05,767.46M536.09,727.8L536.01,728.09M539.41,728.96A160.98,160.98 0 0 1 532.64,727.16M539.41,728.96L539.17,729.93M532.64,727.16L532.56,727.45M534.81,728.08A161.28,161.28 0 0 1 530.32,726.78M534.81,728.08L534.73,728.37M536.24,728.77A161.58,161.58 0 0 1 533.22,727.95M536.24,728.77L535.98,729.74M533.22,727.95L532.95,728.91M530.32,726.78L530.03,727.74M523.51,721.79L523.33,722.31M527.98,723.91A159.24,159.24 0 0 1 518.73,720.58M527.98,723.91L527.67,724.86M518.73,720.58L518.52,721.09M524.88,723.45A159.79,159.79 0 0 1 512.28,718.47M524.88,723.45L522,731.74M512.28,718.47L512.05,718.97M520.33,722.39A160.35,160.35 0 0 1 503.98,715.1M520.33,722.39L519.7,724.02M521.17,724.57A162.1,162.1 0 0 1 518.24,723.46M521.17,724.57L520.59,726.14M518.24,723.46L517.49,725.38M503.98,715.1L503.72,715.6M514.36,720.58A160.9,160.9 0 0 1 493.48,709.85M514.36,720.58L514.08,721.24M515.52,721.84A161.62,161.62 0 0 1 512.65,720.62M515.52,721.84L514.96,723.2M512.65,720.62L512.1,721.88M493.48,709.85L493.19,710.32M507.74,718.21A161.46,161.46 0 0 1 479.52,700.99M507.74,718.21L507.14,719.48M509.28,720.48A162.87,162.87 0 0 1 505.01,718.45M509.28,720.48L508.86,721.39M505.01,718.45L504.88,718.71M506.3,719.41A163.17,163.17 0 0 1 503.47,718.01M506.3,719.41L505.86,720.31M503.47,718.01L503.02,718.9M479.52,700.99L479.19,701.43M490.31,709.18A162.01,162.01 0 0 1 468.75,692.77M490.31,709.18L490.15,709.45M492.72,711.06A162.33,162.33 0 0 1 487.6,707.79M492.72,711.06L492.57,711.31M495.1,712.82A162.63,162.63 0 0 1 490.07,709.75M495.1,712.82L494.94,713.08M497.33,714.45A162.93,162.93 0 0 1 492.58,711.67M497.33,714.45L497.19,714.72M499.26,715.86A163.23,163.23 0 0 1 495.13,713.54M499.26,715.86L499.11,716.13M500.5,716.87A163.53,163.53 0 0 1 497.73,715.36M500.5,716.87L500.03,717.76M497.73,715.36L497.24,716.24M495.13,713.54L494.6,714.45M492.58,711.67L491.62,713.25M490.07,709.75L489.53,710.6M487.6,707.79L486.7,709.14M468.75,692.77L468.38,693.18M478.51,701.61A162.57,162.57 0 0 1 458.96,683.96M478.51,701.61L478.02,702.25M482.46,705.54A163.38,163.38 0 0 1 473.69,698.82M482.46,705.54L482.29,705.78M484.23,707.14A163.68,163.68 0 0 1 480.37,704.39M484.23,707.14L483.22,708.6M480.37,704.39L480.19,704.63M481.47,705.56A163.98,163.98 0 0 1 478.92,703.69M481.47,705.56L480.52,706.88M478.92,703.69L478.2,704.65M473.69,698.82L473.5,699.06M475.34,700.55A163.68,163.68 0 0 1 471.68,697.54M475.34,700.55L475.16,700.78M476.4,701.76A163.98,163.98 0 0 1 473.92,699.79M476.4,701.76L475.79,702.55M473.92,699.79L473.29,700.56M471.68,697.54L471.03,698.3M458.96,683.96L458.55,684.34M466.79,692.49A163.12,163.12 0 0 1 450.92,675.63M466.79,692.49L466.15,693.18M469.02,695.76A164.07,164.07 0 0 1 463.34,690.53M469.02,695.76L467.93,697.01M463.34,690.53L463.13,690.75M466.46,693.87A164.37,164.37 0 0 1 459.89,687.53M466.46,693.87L465.78,694.61M459.89,687.53L459.68,687.74M462.21,690.27A164.67,164.67 0 0 1 457.2,685.15M462.21,690.27L462,690.48M463.72,692.14A164.97,164.97 0 0 1 460.3,688.8M463.72,692.14L463.03,692.87M460.3,688.8L460.09,689.01M461.22,690.14A165.27,165.27 0 0 1 458.97,687.87M461.22,690.14L460.52,690.85M458.97,687.87L458.25,688.57M457.2,685.15L456.47,685.84M450.92,675.63L450.49,675.98M455.78,682.15A163.68,163.68 0 0 1 445.51,669.56M455.78,682.15L454.75,683.08M445.51,669.56L445.06,669.89M450.2,676.5A164.23,164.23 0 0 1 440.27,663.02M450.2,676.5L449.73,676.89M451.77,679.33A164.84,164.84 0 0 1 447.73,674.4M451.77,679.33L451.54,679.53M452.58,680.74A165.14,165.14 0 0 1 450.51,678.31M452.58,680.74L451.65,681.55M450.51,678.31L449.74,678.95M447.73,674.4L447.5,674.59M448.49,675.84A165.14,165.14 0 0 1 446.52,673.33M448.49,675.84L447.2,676.88M446.52,673.33L445.73,673.94M440.27,663.02L439.8,663.33M443.93,669.29A164.79,164.79 0 0 1 435.94,657.19M443.93,669.29L443.02,669.95M443.97,671.24A165.91,165.91 0 0 1 442.09,668.65M443.97,671.24L443.17,671.84M442.09,668.65L441.27,669.23M435.94,657.19L435.47,657.48M440.73,665.7A165.34,165.34 0 0 1 430.7,648.96M440.73,665.7L437.17,668.12M430.7,648.96L430.21,649.22M434.87,657.57A165.9,165.9 0 0 1 426.03,640.61M434.87,657.57L433.59,658.34M435.06,660.75A167.4,167.4 0 0 1 432.16,655.89M435.06,660.75L434.8,660.91M436.1,662.97A167.7,167.7 0 0 1 433.54,658.84M436.1,662.97L435.85,663.13M436.73,664.49A168,168 0 0 1 434.98,661.76M436.73,664.49L435.89,665.04M434.98,661.76L433.98,662.38M433.54,658.84L432.68,659.35M432.16,655.89L431.29,656.39M426.03,640.61L425.52,640.84M430.07,650.14A166.45,166.45 0 0 1 421.57,631.26M430.07,650.14L428.48,650.98M429.82,653.48A168.25,168.25 0 0 1 427.17,648.45M429.82,653.48L427.86,654.57M427.17,648.45L426.9,648.59M428.02,650.76A168.55,168.55 0 0 1 425.82,646.4M428.02,650.76L427.13,651.22M425.82,646.4L425.55,646.53M426.27,647.99A168.85,168.85 0 0 1 424.84,645.06M426.27,647.99L425.37,648.44M424.84,645.06L423.89,645.51M421.57,631.26L421.05,631.46M425.14,641.34A167.01,167.01 0 0 1 417.59,621.34M425.14,641.34L424.23,641.75M417.59,621.34L417.06,621.5M421.55,634.31A167.56,167.56 0 0 1 413.62,608.37M421.55,634.31L420.54,634.71M422.33,639.04A168.66,168.66 0 0 1 418.87,630.33M422.33,639.04L420.81,639.69M418.87,630.33L418.59,630.43M419.88,633.87A168.96,168.96 0 0 1 417.37,626.97M419.88,633.87L419.61,633.98M420.51,636.26A169.26,169.26 0 0 1 418.73,631.69M420.51,636.26L418.93,636.9M418.73,631.69L418.45,631.79M419.03,633.32A169.56,169.56 0 0 1 417.88,630.25M419.03,633.32L417.75,633.82M417.88,630.25L416.94,630.6M417.37,626.97L416.42,627.29M413.62,608.37L413.08,608.49M415.62,618.56A168.12,168.12 0 0 1 411.17,598.28M415.62,618.56L414.92,618.76M415.96,622.28A168.84,168.84 0 0 1 413.95,615.22M415.96,622.28L415.68,622.37M416.16,623.93A169.14,169.14 0 0 1 415.2,620.8M416.16,623.93L415.17,624.24M415.2,620.8L414.01,621.16M413.95,615.22L413.66,615.29M414.3,617.66A169.14,169.14 0 0 1 413.06,612.92M414.3,617.66L412.84,618.06M413.06,612.92L412.77,612.99M413.17,614.58A169.44,169.44 0 0 1 412.38,611.4M413.17,614.58L412.2,614.83M412.38,611.4L411.41,611.63M411.17,598.28L410.62,598.37M412.08,606.45A168.67,168.67 0 0 1 409.56,590.23M412.08,606.45L411.75,606.51M412.09,608.11A169.01,169.01 0 0 1 411.43,604.91M412.09,608.11L411.11,608.32M411.43,604.91L410.45,605.1M409.56,590.23L409.01,590.29M410.62,601.74A169.23,169.23 0 0 1 408.19,578.75M410.62,601.74L408.66,602.08M408.19,578.75L407.64,578.77M409.01,594.94A169.78,169.78 0 0 1 407.81,562.54M409.01,594.94L407.34,595.17M407.87,598.86A171.47,171.47 0 0 1 406.89,591.47M407.87,598.86L406.88,599.01M406.89,591.47L406.59,591.5M406.88,593.97A171.77,171.77 0 0 1 406.33,589.02M406.88,593.97L406.58,594.01M406.8,595.66A172.07,172.07 0 0 1 406.38,592.36M406.8,595.66L405.81,595.79M406.38,592.36L405.37,592.48M406.33,589.02L404.31,589.22M407.81,562.54L407.26,562.51M407.2,581.4A170.34,170.34 0 0 1 409.41,543.74M407.2,581.4L406.08,581.46M406.36,585.69A171.45,171.45 0 0 1 405.91,577.22M406.36,585.69L405.21,585.78M405.91,577.22L405.61,577.22M405.83,582.4A171.75,171.75 0 0 1 405.55,572.04M405.83,582.4L404.7,582.47M405.55,572.04L405.25,572.04M405.26,574.95A172.05,172.05 0 0 1 405.28,569.13M405.26,574.95L404.96,574.95M405.02,577.45A172.35,172.35 0 0 1 404.95,572.45M405.02,577.45L404.72,577.46M404.77,579.12A172.65,172.65 0 0 1 404.68,575.79M404.77,579.12L403.78,579.16M404.68,575.79L403.68,575.81M404.95,572.45L403.95,572.45M405.28,569.13L403.48,569.09M409.41,543.74L408.86,543.64M407.31,554.94A170.89,170.89 0 0 1 411.16,532.48M407.31,554.94L406.24,554.83M405.88,558.76A171.97,171.97 0 0 1 406.69,550.91M405.88,558.76L405.58,558.73M405.38,561.64A172.27,172.27 0 0 1 405.84,555.83M405.38,561.64L405.08,561.62M404.94,564.12A172.57,172.57 0 0 1 405.25,559.13M404.94,564.12L404.64,564.1M404.56,565.77A172.87,172.87 0 0 1 404.73,562.44M404.56,565.77L403.56,565.73M404.73,562.44L403.49,562.36M405.25,559.13L404.25,559.05M405.84,555.83L404.85,555.74M406.69,550.91L406.4,550.87M406.19,552.52A172.27,172.27 0 0 1 406.61,549.22M406.19,552.52L405.2,552.41M406.61,549.22L405.62,549.09M411.16,532.48L410.62,532.35M408.6,541.97A171.45,171.45 0 0 1 413.2,522.85M408.6,541.97L407.67,541.8M407.24,544.26A172.39,172.39 0 0 1 408.13,539.35M407.24,544.26L406.94,544.21M406.68,545.86A172.69,172.69 0 0 1 407.23,542.57M406.68,545.86L405.69,545.71M407.23,542.57L405.06,542.19M408.13,539.35L405.9,538.91M413.2,522.85L412.67,522.69M410.82,529.29A172,172 0 0 1 414.78,516.17M410.82,529.29L409.11,528.85M408.01,533.33A173.77,173.77 0 0 1 410.32,524.4M408.01,533.33L407.71,533.27M407.16,535.73A174.07,174.07 0 0 1 408.3,530.81M407.16,535.73L406.18,535.52M408.3,530.81L408.01,530.74M407.61,532.38A174.37,174.37 0 0 1 408.42,529.11M407.61,532.38L406.64,532.15M408.42,529.11L407.45,528.86M410.32,524.4L410.04,524.31M409.58,525.93A174.07,174.07 0 0 1 410.51,522.7M409.58,525.93L408.62,525.66M410.51,522.7L408.69,522.16M414.78,516.17L413.58,515.76M412.77,518.13A173.28,173.28 0 0 1 414.42,513.39M412.77,518.13L412.49,518.04M411.97,519.63A173.58,173.58 0 0 1 413.02,516.45M411.97,519.63L411.02,519.33M413.02,516.45L411.16,515.81M414.42,513.39L412.11,512.55" fill="none" stroke="#505050" stroke-width="0.95" stroke-linecap="butt"/>
<g font-family="Liberation Serif, serif" font-weight="bold" font-size="5.8" fill="#141414" stroke="#141414" stroke-width="0.22">
<text transform="rotate(30.05 577.3 572.5)" x="163.8" y="572.5" dy="0.34em" text-anchor="end">KM204119 Hawaii 1944</text>
<text transform="rotate(31.16 577.3 572.5)" x="163.8" y="572.5" dy="0.34em" text-anchor="end">PP151953 Indonesia 2020</text>
<text transform="rotate(32.27 577.3 572.5)" x="163.8" y="572.5" dy="0.34em" text-anchor="end">OL321181 Papua New Guinea 2016</text>
<text transform="rotate(33.38 577.3 572.5)" x="163.8" y="572.5" dy="0.34em" text-anchor="end">MH921567 Australia 2016</text>
<text transform="rotate(34.48 577.3 572.5)" x="163.8" y="572.5" dy="0.34em" text-anchor="end">ref AY145121 genotype3</text>
<text transform="rotate(35.59 577.3 572.5)" x="163.8" y="572.5" dy="0.34em" text-anchor="end">MW828678 India 2019</text>
<text transform="rotate(36.7 577.3 572.5)" x="163.8" y="572.5" dy="0.34em" text-anchor="end">OK180520 Indonesia 2016</text>
<text transform="rotate(37.8 577.3 572.5)" x="163.8" y="572.5" dy="0.34em" text-anchor="end">OQ579288 Philippines 2016</text>
<text transform="rotate(38.91 577.3 572.5)" x="163.8" y="572.5" dy="0.34em" text-anchor="end">OQ579290 Philippines 2016</text>
<text transform="rotate(40.02 577.3 572.5)" x="163.8" y="572.5" dy="0.34em" text-anchor="end">OQ579249 Philippines 2015</text>
<text transform="rotate(41.13 577.3 572.5)" x="163.8" y="572.5" dy="0.34em" text-anchor="end">OQ579209 Philippines 2016</text>
<text transform="rotate(42.23 577.3 572.5)" x="163.8" y="572.5" dy="0.34em" text-anchor="end">OQ579193 Philippines 2015</text>
<text transform="rotate(43.34 577.3 572.5)" x="163.8" y="572.5" dy="0.34em" text-anchor="end">OQ579182 Philippines 2015</text>
<text transform="rotate(44.45 577.3 572.5)" x="163.8" y="572.5" dy="0.34em" text-anchor="end">MG737908 China 2015</text>
<text transform="rotate(45.56 577.3 572.5)" x="163.8" y="572.5" dy="0.34em" text-anchor="end">OQ579184 Philippines 2016</text>
<text transform="rotate(46.66 577.3 572.5)" x="163.8" y="572.5" dy="0.34em" text-anchor="end">LC683317 Philippines 2017</text>
<text transform="rotate(47.77 577.3 572.5)" x="163.8" y="572.5" dy="0.34em" text-anchor="end">OQ579234 Philippines 2016</text>
<text transform="rotate(48.88 577.3 572.5)" x="163.8" y="572.5" dy="0.34em" text-anchor="end">OQ579289 Philippines 2015</text>
<text transform="rotate(49.98 577.3 572.5)" x="163.8" y="572.5" dy="0.34em" text-anchor="end">OR476937 Philippines 2019</text>
<text transform="rotate(51.09 577.3 572.5)" x="163.8" y="572.5" dy="0.34em" text-anchor="end">OQ579242 Philippines 2015</text>
<text transform="rotate(52.2 577.3 572.5)" x="163.8" y="572.5" dy="0.34em" text-anchor="end">OM281689 Philippines 2019</text>
<text transform="rotate(53.31 577.3 572.5)" x="163.8" y="572.5" dy="0.34em" text-anchor="end">OQ579214 Philippines 2015</text>
<text transform="rotate(54.41 577.3 572.5)" x="163.8" y="572.5" dy="0.34em" text-anchor="end">OR476974 Philippines 2019</text>
<text transform="rotate(55.52 577.3 572.5)" x="163.8" y="572.5" dy="0.34em" text-anchor="end">MG894840 Taiwan 2016</text>
<text transform="rotate(56.63 577.3 572.5)" x="163.8" y="572.5" dy="0.34em" text-anchor="end">OQ579276 Philippines 2017</text>
<text transform="rotate(57.74 577.3 572.5)" x="163.8" y="572.5" dy="0.34em" text-anchor="end">OQ579266 Philippines 2015</text>
<text transform="rotate(58.84 577.3 572.5)" x="163.8" y="572.5" dy="0.34em" text-anchor="end">OR476973 Philippines 2016</text>
<text transform="rotate(59.95 577.3 572.5)" x="163.8" y="572.5" dy="0.34em" text-anchor="end">OQ579186 Philippines 2018</text>
<text transform="rotate(61.06 577.3 572.5)" x="163.8" y="572.5" dy="0.34em" text-anchor="end">OQ579188 Philippines 2016</text>
<text transform="rotate(62.16 577.3 572.5)" x="163.8" y="572.5" dy="0.34em" text-anchor="end">OQ579261 Philippines 2016</text>
<text transform="rotate(63.27 577.3 572.5)" x="163.8" y="572.5" dy="0.34em" text-anchor="end">MG730643 China 2018</text>
<text transform="rotate(64.38 577.3 572.5)" x="163.8" y="572.5" dy="0.34em" text-anchor="end">OR476971 Philippines 2017</text>
<text transform="rotate(65.49 577.3 572.5)" x="163.8" y="572.5" dy="0.34em" text-anchor="end">ON908215 China 2019</text>
<text transform="rotate(66.59 577.3 572.5)" x="163.8" y="572.5" dy="0.34em" text-anchor="end">MN921080 China 2019</text>
<text transform="rotate(67.7 577.3 572.5)" x="163.8" y="572.5" dy="0.34em" text-anchor="end">LC683507 Philippines 2015</text>
<text transform="rotate(68.81 577.3 572.5)" x="163.8" y="572.5" dy="0.34em" text-anchor="end">OQ579229 Philippines 2015</text>
<text transform="rotate(69.91 577.3 572.5)" x="163.8" y="572.5" dy="0.34em" text-anchor="end">OQ579258 Philippines 2016</text>
<text transform="rotate(71.02 577.3 572.5)" x="163.8" y="572.5" dy="0.34em" text-anchor="end">OQ579225 Philippines 2015</text>
<text transform="rotate(72.13 577.3 572.5)" x="163.8" y="572.5" dy="0.34em" text-anchor="end">OQ579273 Philippines 2017</text>
<text transform="rotate(73.24 577.3 572.5)" x="163.8" y="572.5" dy="0.34em" text-anchor="end">DENV 1 2024019 PHL imported</text>
<text transform="rotate(74.34 577.3 572.5)" x="163.8" y="572.5" dy="0.34em" text-anchor="end">PQ479156 Ghana 2023</text>
<text transform="rotate(75.45 577.3 572.5)" x="163.8" y="572.5" dy="0.34em" text-anchor="end">OM920082 Tanzania 2019</text>
<text transform="rotate(76.56 577.3 572.5)" x="163.8" y="572.5" dy="0.34em" text-anchor="end">OM920185 Tanzania 2019</text>
<text transform="rotate(77.67 577.3 572.5)" x="163.8" y="572.5" dy="0.34em" text-anchor="end">OM920219 Tanzania 2019</text>
<text transform="rotate(78.77 577.3 572.5)" x="163.8" y="572.5" dy="0.34em" text-anchor="end">OM920213 Tanzania 2019</text>
<text transform="rotate(79.88 577.3 572.5)" x="163.8" y="572.5" dy="0.34em" text-anchor="end">OM920356 Tanzania 2019</text>
<text transform="rotate(80.99 577.3 572.5)" x="163.8" y="572.5" dy="0.34em" text-anchor="end">DENV 1 2024008 AF imported</text>
<text transform="rotate(82.09 577.3 572.5)" x="163.8" y="572.5" dy="0.34em" text-anchor="end">DENV 1 2024007 AF imported</text>
<text transform="rotate(83.2 577.3 572.5)" x="163.8" y="572.5" dy="0.34em" text-anchor="end">OR259173 Nigeria 2021</text>
<text transform="rotate(84.31 577.3 572.5)" x="163.8" y="572.5" dy="0.34em" text-anchor="end">OM920309 Tanzania 2019</text>
<text transform="rotate(85.42 577.3 572.5)" x="163.8" y="572.5" dy="0.34em" text-anchor="end">OM920313 Tanzania 2019</text>
<text transform="rotate(86.52 577.3 572.5)" x="163.8" y="572.5" dy="0.34em" text-anchor="end">OM920487 Tanzania 2019</text>
<text transform="rotate(87.63 577.3 572.5)" x="163.8" y="572.5" dy="0.34em" text-anchor="end">OR235334 Reunion 2020</text>
<text transform="rotate(88.74 577.3 572.5)" x="163.8" y="572.5" dy="0.34em" text-anchor="end">OR235739 Mayotte 2019</text>
<text transform="rotate(89.85 577.3 572.5)" x="163.8" y="572.5" dy="0.34em" text-anchor="end">OR235401 Reunion 2021</text>
<text transform="rotate(270.95 577.3 572.5)" x="990.8" y="572.5" dy="0.34em">OR235709 Reunion 2021</text>
<text transform="rotate(272.06 577.3 572.5)" x="990.8" y="572.5" dy="0.34em">OM920367 Tanzania 2019</text>
<text transform="rotate(273.17 577.3 572.5)" x="990.8" y="572.5" dy="0.34em">OM920359 Tanzania 2019</text>
<text transform="rotate(274.27 577.3 572.5)" x="990.8" y="572.5" dy="0.34em">OM920372 Tanzania 2019</text>
<text transform="rotate(275.38 577.3 572.5)" x="990.8" y="572.5" dy="0.34em">OM920415 Tanzania 2019</text>
<text transform="rotate(276.49 577.3 572.5)" x="990.8" y="572.5" dy="0.34em">OM920368 Tanzania 2019</text>
<text transform="rotate(277.6 577.3 572.5)" x="990.8" y="572.5" dy="0.34em">OM920167 Tanzania 2019</text>
<text transform="rotate(278.7 577.3 572.5)" x="990.8" y="572.5" dy="0.34em">OM920361 Tanzania 2019</text>
<text transform="rotate(279.81 577.3 572.5)" x="990.8" y="572.5" dy="0.34em">OM920379 Tanzania 2019</text>
<text transform="rotate(280.92 577.3 572.5)" x="990.8" y="572.5" dy="0.34em">KX901656 Colombia 2015</text>
<text transform="rotate(282.03 577.3 572.5)" x="990.8" y="572.5" dy="0.34em">ON123593 Peru 2021</text>
<text transform="rotate(283.13 577.3 572.5)" x="990.8" y="572.5" dy="0.34em">KY474303 Ecuador 2014</text>
<text transform="rotate(284.24 577.3 572.5)" x="990.8" y="572.5" dy="0.34em">MN440908 Ecuador 2015</text>
<text transform="rotate(285.35 577.3 572.5)" x="990.8" y="572.5" dy="0.34em">OR654282 USA 2023</text>
<text transform="rotate(286.45 577.3 572.5)" x="990.8" y="572.5" dy="0.34em">PQ154994 USA 2023</text>
<text transform="rotate(287.56 577.3 572.5)" x="990.8" y="572.5" dy="0.34em">MH879236 Panama 2015</text>
<text transform="rotate(288.67 577.3 572.5)" x="990.8" y="572.5" dy="0.34em">MF173446 Colombia 2015</text>
<text transform="rotate(289.78 577.3 572.5)" x="990.8" y="572.5" dy="0.34em">OM654348 Colombia 2015</text>
<text transform="rotate(290.88 577.3 572.5)" x="990.8" y="572.5" dy="0.34em">MZ773407 Colombia 2021</text>
<text transform="rotate(291.99 577.3 572.5)" x="990.8" y="572.5" dy="0.34em">PQ851423 Colombia 2019</text>
<text transform="rotate(293.1 577.3 572.5)" x="990.8" y="572.5" dy="0.34em">PP092962 Colombia 2024</text>
<text transform="rotate(294.21 577.3 572.5)" x="990.8" y="572.5" dy="0.34em">PP092961 Colombia 2023</text>
<text transform="rotate(295.31 577.3 572.5)" x="990.8" y="572.5" dy="0.34em">OR818252 Brazil 2023</text>
<text transform="rotate(296.42 577.3 572.5)" x="990.8" y="572.5" dy="0.34em">MH879234 Panama 2015</text>
<text transform="rotate(297.53 577.3 572.5)" x="990.8" y="572.5" dy="0.34em">OQ821116 Cuba 2019</text>
<text transform="rotate(298.63 577.3 572.5)" x="990.8" y="572.5" dy="0.34em">PP214862 Colombia 2018</text>
<text transform="rotate(299.74 577.3 572.5)" x="990.8" y="572.5" dy="0.34em">PQ467848 Peru 2024</text>
<text transform="rotate(300.85 577.3 572.5)" x="990.8" y="572.5" dy="0.34em">ON123604 Peru 2021</text>
<text transform="rotate(301.96 577.3 572.5)" x="990.8" y="572.5" dy="0.34em">ON123602 Peru 2021</text>
<text transform="rotate(303.06 577.3 572.5)" x="990.8" y="572.5" dy="0.34em">OR167368 Brazil 2023</text>
<text transform="rotate(304.17 577.3 572.5)" x="990.8" y="572.5" dy="0.34em">OR167369 Brazil 2023</text>
<text transform="rotate(305.28 577.3 572.5)" x="990.8" y="572.5" dy="0.34em">PQ467856 Peru 2024</text>
<text transform="rotate(306.38 577.3 572.5)" x="990.8" y="572.5" dy="0.34em">ON632118 Brazil 2022</text>
<text transform="rotate(307.49 577.3 572.5)" x="990.8" y="572.5" dy="0.34em">PQ467844 Peru 2024</text>
<text transform="rotate(308.6 577.3 572.5)" x="990.8" y="572.5" dy="0.34em">PQ467833 Peru 2024</text>
<text transform="rotate(309.71 577.3 572.5)" x="990.8" y="572.5" dy="0.34em">PP998432 Colombia 2021</text>
<text transform="rotate(310.81 577.3 572.5)" x="990.8" y="572.5" dy="0.34em">OR167251 Brazil 2023</text>
<text transform="rotate(311.92 577.3 572.5)" x="990.8" y="572.5" dy="0.34em">OR258428 Brazil 2022</text>
<text transform="rotate(313.03 577.3 572.5)" x="990.8" y="572.5" dy="0.34em">OR258497 Brazil 2022</text>
<text transform="rotate(314.14 577.3 572.5)" x="990.8" y="572.5" dy="0.34em">OR167135 Brazil 2023</text>
<text transform="rotate(315.24 577.3 572.5)" x="990.8" y="572.5" dy="0.34em">OR167170 Brazil 2023</text>
<text transform="rotate(316.35 577.3 572.5)" x="990.8" y="572.5" dy="0.34em">OR167282 Brazil 2023</text>
<text transform="rotate(317.46 577.3 572.5)" x="990.8" y="572.5" dy="0.34em">OR167283 Brazil 2023</text>
<text transform="rotate(318.56 577.3 572.5)" x="990.8" y="572.5" dy="0.34em">OR258457 Brazil 2022</text>
<text transform="rotate(319.67 577.3 572.5)" x="990.8" y="572.5" dy="0.34em">DENV 1 2019121</text>
<text transform="rotate(320.78 577.3 572.5)" x="990.8" y="572.5" dy="0.34em">PQ155045 USA 2024</text>
<text transform="rotate(321.89 577.3 572.5)" x="990.8" y="572.5" dy="0.34em">OR494352 Uruguay 2023</text>
<text transform="rotate(322.99 577.3 572.5)" x="990.8" y="572.5" dy="0.34em">OR167238 Brazil 2023</text>
<text transform="rotate(324.1 577.3 572.5)" x="990.8" y="572.5" dy="0.34em">OR258492 Brazil 2022</text>
<text transform="rotate(325.21 577.3 572.5)" x="990.8" y="572.5" dy="0.34em">OR258551 Brazil 2022</text>
<text transform="rotate(326.32 577.3 572.5)" x="990.8" y="572.5" dy="0.34em">OR258478 Brazil 2022</text>
<text transform="rotate(327.42 577.3 572.5)" x="990.8" y="572.5" dy="0.34em">OR258458 Brazil 2022</text>
<text transform="rotate(328.53 577.3 572.5)" x="990.8" y="572.5" dy="0.34em">OR258406 Brazil 2022</text>
<text transform="rotate(329.64 577.3 572.5)" x="990.8" y="572.5" dy="0.34em">OR258504 Brazil 2022</text>
<text transform="rotate(330.74 577.3 572.5)" x="990.8" y="572.5" dy="0.34em">OR258429 Brazil 2022</text>
<text transform="rotate(331.85 577.3 572.5)" x="990.8" y="572.5" dy="0.34em">MN955659 Thailand 2018</text>
<text transform="rotate(332.96 577.3 572.5)" x="990.8" y="572.5" dy="0.34em">MN921351 China 2019</text>
<text transform="rotate(334.07 577.3 572.5)" x="990.8" y="572.5" dy="0.34em">ON891144 China 2019</text>
<text transform="rotate(335.17 577.3 572.5)" x="990.8" y="572.5" dy="0.34em">MN921420 China 2019</text>
<text transform="rotate(336.28 577.3 572.5)" x="990.8" y="572.5" dy="0.34em">MN921371 China 2019</text>
<text transform="rotate(337.39 577.3 572.5)" x="990.8" y="572.5" dy="0.34em">MN913526 China 2019</text>
<text transform="rotate(338.5 577.3 572.5)" x="990.8" y="572.5" dy="0.34em">MN921636 China 2019</text>
<text transform="rotate(339.6 577.3 572.5)" x="990.8" y="572.5" dy="0.34em">MN921509 China 2019</text>
<text transform="rotate(340.71 577.3 572.5)" x="990.8" y="572.5" dy="0.34em">OK562728 China 2019</text>
<text transform="rotate(341.82 577.3 572.5)" x="990.8" y="572.5" dy="0.34em">OR235285 Reunion 2019</text>
<text transform="rotate(342.92 577.3 572.5)" x="990.8" y="572.5" dy="0.34em">MN921435 China 2019</text>
<text transform="rotate(344.03 577.3 572.5)" x="990.8" y="572.5" dy="0.34em">ON584402 Indonesia 2019</text>
<text transform="rotate(345.14 577.3 572.5)" x="990.8" y="572.5" dy="0.34em">PP124010 Malaysia 2019</text>
<text transform="rotate(346.25 577.3 572.5)" x="990.8" y="572.5" dy="0.34em">MN933666 China 2018</text>
<text transform="rotate(347.35 577.3 572.5)" x="990.8" y="572.5" dy="0.34em">MK517741 China 2018</text>
<text transform="rotate(348.46 577.3 572.5)" x="990.8" y="572.5" dy="0.34em">MN869907 China 2018</text>
<text transform="rotate(349.57 577.3 572.5)" x="990.8" y="572.5" dy="0.34em">MK517742 China 2018</text>
<text transform="rotate(350.68 577.3 572.5)" x="990.8" y="572.5" dy="0.34em">ON908212 China 2019</text>
<text transform="rotate(351.78 577.3 572.5)" x="990.8" y="572.5" dy="0.34em">DENV 1 2019009</text>
<text transform="rotate(352.89 577.3 572.5)" x="990.8" y="572.5" dy="0.34em">MZ618996 Thailand 2020</text>
<text transform="rotate(354 577.3 572.5)" x="990.8" y="572.5" dy="0.34em">MZ619001 Thailand 2020</text>
<text transform="rotate(355.1 577.3 572.5)" x="990.8" y="572.5" dy="0.34em">MZ619037 Thailand 2019</text>
<text transform="rotate(356.21 577.3 572.5)" x="990.8" y="572.5" dy="0.34em">MZ619036 Thailand 2019</text>
<text transform="rotate(357.32 577.3 572.5)" x="990.8" y="572.5" dy="0.34em">MN955622 Thailand 2018</text>
<text transform="rotate(358.43 577.3 572.5)" x="990.8" y="572.5" dy="0.34em">OR126888 China 2023</text>
<text transform="rotate(359.53 577.3 572.5)" x="990.8" y="572.5" dy="0.34em">PP563844 China 2023</text>
<text transform="rotate(0.64 577.3 572.5)" x="990.8" y="572.5" dy="0.34em">PP563926 China 2023</text>
<text transform="rotate(1.75 577.3 572.5)" x="990.8" y="572.5" dy="0.34em">PP563832 China 2023</text>
<text transform="rotate(2.85 577.3 572.5)" x="990.8" y="572.5" dy="0.34em">PP563967 China 2023</text>
<text transform="rotate(3.96 577.3 572.5)" x="990.8" y="572.5" dy="0.34em">PP563943 China 2023</text>
<text transform="rotate(5.07 577.3 572.5)" x="990.8" y="572.5" dy="0.34em">PP563959 China 2023</text>
<text transform="rotate(6.18 577.3 572.5)" x="990.8" y="572.5" dy="0.34em">PP563900 China 2023</text>
<text transform="rotate(7.28 577.3 572.5)" x="990.8" y="572.5" dy="0.34em">PP563928 China 2023</text>
<text transform="rotate(8.39 577.3 572.5)" x="990.8" y="572.5" dy="0.34em">OP895916 Borneo 2017</text>
<text transform="rotate(9.5 577.3 572.5)" x="990.8" y="572.5" dy="0.34em">PP907863 India 2022</text>
<text transform="rotate(10.61 577.3 572.5)" x="990.8" y="572.5" dy="0.34em">DENV 1 2024044 GZ imported</text>
<text transform="rotate(11.71 577.3 572.5)" x="990.8" y="572.5" dy="0.34em">DENV 1 2024073</text>
<text transform="rotate(12.82 577.3 572.5)" x="990.8" y="572.5" dy="0.34em">DENV 1 2024075</text>
<text transform="rotate(13.93 577.3 572.5)" x="990.8" y="572.5" dy="0.34em">PP123949 Malaysia 2016</text>
<text transform="rotate(15.03 577.3 572.5)" x="990.8" y="572.5" dy="0.34em">MG894937 Taiwan 2016</text>
<text transform="rotate(16.14 577.3 572.5)" x="990.8" y="572.5" dy="0.34em">DENV 1 2024069</text>
<text transform="rotate(17.25 577.3 572.5)" x="990.8" y="572.5" dy="0.34em">DENV 1 2024051</text>
<text transform="rotate(18.36 577.3 572.5)" x="990.8" y="572.5" dy="0.34em">DENV 1 2024076</text>
<text transform="rotate(19.46 577.3 572.5)" x="990.8" y="572.5" dy="0.34em">DENV 1 2024050</text>
<text transform="rotate(20.57 577.3 572.5)" x="990.8" y="572.5" dy="0.34em">DENV 1 2024074</text>
<text transform="rotate(21.68 577.3 572.5)" x="990.8" y="572.5" dy="0.34em">DENV 1 2024093</text>
<text transform="rotate(22.79 577.3 572.5)" x="990.8" y="572.5" dy="0.34em">DENV 1 2024046</text>
<text transform="rotate(23.89 577.3 572.5)" x="990.8" y="572.5" dy="0.34em">DENV 1 2024017</text>
<text transform="rotate(25 577.3 572.5)" x="990.8" y="572.5" dy="0.34em">DENV 1 2024094</text>
<text transform="rotate(26.11 577.3 572.5)" x="990.8" y="572.5" dy="0.34em">DENV 1 2024041</text>
<text transform="rotate(27.21 577.3 572.5)" x="990.8" y="572.5" dy="0.34em">DENV 1 2024042</text>
<text transform="rotate(28.32 577.3 572.5)" x="990.8" y="572.5" dy="0.34em">DENV 1 2024037</text>
<text transform="rotate(29.43 577.3 572.5)" x="990.8" y="572.5" dy="0.34em">DENV 1 2024040</text>
<text transform="rotate(30.54 577.3 572.5)" x="990.8" y="572.5" dy="0.34em">DENV 1 2024038</text>
<text transform="rotate(31.64 577.3 572.5)" x="990.8" y="572.5" dy="0.34em">DENV 1 2024033</text>
<text transform="rotate(32.75 577.3 572.5)" x="990.8" y="572.5" dy="0.34em">DENV 1 2024020</text>
<text transform="rotate(33.86 577.3 572.5)" x="990.8" y="572.5" dy="0.34em">DENV 1 2024027</text>
<text transform="rotate(34.97 577.3 572.5)" x="990.8" y="572.5" dy="0.34em">DENV 1 2024095</text>
<text transform="rotate(36.07 577.3 572.5)" x="990.8" y="572.5" dy="0.34em">DENV 1 2024015</text>
<text transform="rotate(37.18 577.3 572.5)" x="990.8" y="572.5" dy="0.34em">DENV 1 2024023</text>
<text transform="rotate(38.29 577.3 572.5)" x="990.8" y="572.5" dy="0.34em">DENV 1 2024014</text>
<text transform="rotate(39.39 577.3 572.5)" x="990.8" y="572.5" dy="0.34em">DENV 1 2024035</text>
<text transform="rotate(40.5 577.3 572.5)" x="990.8" y="572.5" dy="0.34em">DENV 1 2024012</text>
<text transform="rotate(41.61 577.3 572.5)" x="990.8" y="572.5" dy="0.34em">DENV 1 2024028</text>
<text transform="rotate(42.72 577.3 572.5)" x="990.8" y="572.5" dy="0.34em">DENV 1 2024072</text>
<text transform="rotate(43.82 577.3 572.5)" x="990.8" y="572.5" dy="0.34em">DENV 1 2024039</text>
<text transform="rotate(44.93 577.3 572.5)" x="990.8" y="572.5" dy="0.34em">DENV 1 2024025</text>
<text transform="rotate(46.04 577.3 572.5)" x="990.8" y="572.5" dy="0.34em">DENV 1 2024024</text>
<text transform="rotate(47.15 577.3 572.5)" x="990.8" y="572.5" dy="0.34em">DENV 1 2024045</text>
<text transform="rotate(48.25 577.3 572.5)" x="990.8" y="572.5" dy="0.34em">DENV 1 2024030</text>
<text transform="rotate(49.36 577.3 572.5)" x="990.8" y="572.5" dy="0.34em">DENV 1 2024016</text>
<text transform="rotate(50.47 577.3 572.5)" x="990.8" y="572.5" dy="0.34em">PP269790 Viet Nam 2017</text>
<text transform="rotate(51.57 577.3 572.5)" x="990.8" y="572.5" dy="0.34em">OQ426623 Viet Nam 2019</text>
<text transform="rotate(52.68 577.3 572.5)" x="990.8" y="572.5" dy="0.34em">OQ426615 Viet Nam 2018</text>
<text transform="rotate(53.79 577.3 572.5)" x="990.8" y="572.5" dy="0.34em">PP269696 Viet Nam 2019</text>
<text transform="rotate(54.9 577.3 572.5)" x="990.8" y="572.5" dy="0.34em">DENV 1 2019018</text>
<text transform="rotate(56 577.3 572.5)" x="990.8" y="572.5" dy="0.34em">PP269697 Viet Nam 2019</text>
<text transform="rotate(57.11 577.3 572.5)" x="990.8" y="572.5" dy="0.34em">OQ426573 Viet Nam 2018</text>
<text transform="rotate(58.22 577.3 572.5)" x="990.8" y="572.5" dy="0.34em">OQ426601 Viet Nam 2018</text>
<text transform="rotate(59.32 577.3 572.5)" x="990.8" y="572.5" dy="0.34em">OQ426618 Viet Nam 2018</text>
<text transform="rotate(60.43 577.3 572.5)" x="990.8" y="572.5" dy="0.34em">OQ426614 Viet Nam 2019</text>
<text transform="rotate(61.54 577.3 572.5)" x="990.8" y="572.5" dy="0.34em">OQ531485 Viet Nam 2022</text>
<text transform="rotate(62.65 577.3 572.5)" x="990.8" y="572.5" dy="0.34em">OQ531509 Viet Nam 2022</text>
<text transform="rotate(63.75 577.3 572.5)" x="990.8" y="572.5" dy="0.34em">PP269712 Viet Nam 2018</text>
<text transform="rotate(64.86 577.3 572.5)" x="990.8" y="572.5" dy="0.34em">PP234904 Viet Nam 2017</text>
<text transform="rotate(65.97 577.3 572.5)" x="990.8" y="572.5" dy="0.34em">MN912244 Viet Nam 2022</text>
<text transform="rotate(67.08 577.3 572.5)" x="990.8" y="572.5" dy="0.34em">OQ531613 Viet Nam 2018</text>
<text transform="rotate(68.18 577.3 572.5)" x="990.8" y="572.5" dy="0.34em">PP269819 Viet Nam 2017</text>
<text transform="rotate(69.29 577.3 572.5)" x="990.8" y="572.5" dy="0.34em">MN912314 Viet Nam 2020</text>
<text transform="rotate(70.4 577.3 572.5)" x="990.8" y="572.5" dy="0.34em">PP269780 Viet Nam 2022</text>
<text transform="rotate(71.5 577.3 572.5)" x="990.8" y="572.5" dy="0.34em">OQ531603 Viet Nam 2022</text>
<text transform="rotate(72.61 577.3 572.5)" x="990.8" y="572.5" dy="0.34em">OQ531612 Viet Nam 2017</text>
<text transform="rotate(73.72 577.3 572.5)" x="990.8" y="572.5" dy="0.34em">MN912315 Viet Nam 2017</text>
<text transform="rotate(74.83 577.3 572.5)" x="990.8" y="572.5" dy="0.34em">PP269795 Viet Nam 2018</text>
<text transform="rotate(75.93 577.3 572.5)" x="990.8" y="572.5" dy="0.34em">OQ426664 Viet Nam 2018</text>
<text transform="rotate(77.04 577.3 572.5)" x="990.8" y="572.5" dy="0.34em">PP269820 Viet Nam 2019</text>
<text transform="rotate(78.15 577.3 572.5)" x="990.8" y="572.5" dy="0.34em">MT790805 China 2019</text>
<text transform="rotate(79.26 577.3 572.5)" x="990.8" y="572.5" dy="0.34em">OP919474 China 2019</text>
<text transform="rotate(80.36 577.3 572.5)" x="990.8" y="572.5" dy="0.34em">OP919062 China 2019</text>
<text transform="rotate(81.47 577.3 572.5)" x="990.8" y="572.5" dy="0.34em">PQ357545 Thailand 2019</text>
<text transform="rotate(82.58 577.3 572.5)" x="990.8" y="572.5" dy="0.34em">OR879624 China 2019</text>
<text transform="rotate(83.68 577.3 572.5)" x="990.8" y="572.5" dy="0.34em">MN921203 China 2019</text>
<text transform="rotate(84.79 577.3 572.5)" x="990.8" y="572.5" dy="0.34em">MN921195 China 2019</text>
<text transform="rotate(85.9 577.3 572.5)" x="990.8" y="572.5" dy="0.34em">OP502784 China 2019</text>
<text transform="rotate(87.01 577.3 572.5)" x="990.8" y="572.5" dy="0.34em">MN921237 China 2019</text>
<text transform="rotate(88.11 577.3 572.5)" x="990.8" y="572.5" dy="0.34em">MN921043 China 2019</text>
<text transform="rotate(89.22 577.3 572.5)" x="990.8" y="572.5" dy="0.34em">MN921220 China 2019</text>
<text transform="rotate(-89.67 577.3 572.5)" x="163.8" y="572.5" dy="0.34em" text-anchor="end">DENV 1 2019004</text>
<text transform="rotate(-88.56 577.3 572.5)" x="163.8" y="572.5" dy="0.34em" text-anchor="end">DENV 1 2019008</text>
<text transform="rotate(-87.46 577.3 572.5)" x="163.8" y="572.5" dy="0.34em" text-anchor="end">DENV 1 2019005</text>
<text transform="rotate(-86.35 577.3 572.5)" x="163.8" y="572.5" dy="0.34em" text-anchor="end">MT790851 China 2019</text>
<text transform="rotate(-85.24 577.3 572.5)" x="163.8" y="572.5" dy="0.34em" text-anchor="end">MN921416 China 2019</text>
<text transform="rotate(-84.14 577.3 572.5)" x="163.8" y="572.5" dy="0.34em" text-anchor="end">OR879892 China 2019</text>
<text transform="rotate(-83.03 577.3 572.5)" x="163.8" y="572.5" dy="0.34em" text-anchor="end">MT790847 China 2019</text>
<text transform="rotate(-81.92 577.3 572.5)" x="163.8" y="572.5" dy="0.34em" text-anchor="end">MN921433 China 2019</text>
<text transform="rotate(-80.81 577.3 572.5)" x="163.8" y="572.5" dy="0.34em" text-anchor="end">MN921401 China 2019</text>
<text transform="rotate(-79.71 577.3 572.5)" x="163.8" y="572.5" dy="0.34em" text-anchor="end">DENV 1 2019017</text>
<text transform="rotate(-78.6 577.3 572.5)" x="163.8" y="572.5" dy="0.34em" text-anchor="end">OP919508 China 2019</text>
<text transform="rotate(-77.49 577.3 572.5)" x="163.8" y="572.5" dy="0.34em" text-anchor="end">MT783406 China 2018</text>
<text transform="rotate(-76.38 577.3 572.5)" x="163.8" y="572.5" dy="0.34em" text-anchor="end">PQ357536 Cambodia 2019</text>
<text transform="rotate(-75.28 577.3 572.5)" x="163.8" y="572.5" dy="0.34em" text-anchor="end">MN921342 China 2019</text>
<text transform="rotate(-74.17 577.3 572.5)" x="163.8" y="572.5" dy="0.34em" text-anchor="end">MT790838 China 2019</text>
<text transform="rotate(-73.06 577.3 572.5)" x="163.8" y="572.5" dy="0.34em" text-anchor="end">MT790878 China 2019</text>
<text transform="rotate(-71.96 577.3 572.5)" x="163.8" y="572.5" dy="0.34em" text-anchor="end">MT790121 China 2019</text>
<text transform="rotate(-70.85 577.3 572.5)" x="163.8" y="572.5" dy="0.34em" text-anchor="end">MT790865 China 2019</text>
<text transform="rotate(-69.74 577.3 572.5)" x="163.8" y="572.5" dy="0.34em" text-anchor="end">MT790786 China 2019</text>
<text transform="rotate(-68.63 577.3 572.5)" x="163.8" y="572.5" dy="0.34em" text-anchor="end">MT790808 China 2019</text>
<text transform="rotate(-67.53 577.3 572.5)" x="163.8" y="572.5" dy="0.34em" text-anchor="end">MT785149 China 2019</text>
<text transform="rotate(-66.42 577.3 572.5)" x="163.8" y="572.5" dy="0.34em" text-anchor="end">DENV 1 2019213</text>
<text transform="rotate(-65.31 577.3 572.5)" x="163.8" y="572.5" dy="0.34em" text-anchor="end">MT785129 China 2019</text>
<text transform="rotate(-64.21 577.3 572.5)" x="163.8" y="572.5" dy="0.34em" text-anchor="end">MT790825 China 2019</text>
<text transform="rotate(-63.1 577.3 572.5)" x="163.8" y="572.5" dy="0.34em" text-anchor="end">PQ357564 Cambodia 2019</text>
<text transform="rotate(-61.99 577.3 572.5)" x="163.8" y="572.5" dy="0.34em" text-anchor="end">OM281092 Cambodia 2019</text>
<text transform="rotate(-60.88 577.3 572.5)" x="163.8" y="572.5" dy="0.34em" text-anchor="end">PQ356199 China 2019</text>
<text transform="rotate(-59.78 577.3 572.5)" x="163.8" y="572.5" dy="0.34em" text-anchor="end">OK159974 Cambodia 2019</text>
<text transform="rotate(-58.67 577.3 572.5)" x="163.8" y="572.5" dy="0.34em" text-anchor="end">DENV 1 2019040</text>
<text transform="rotate(-57.56 577.3 572.5)" x="163.8" y="572.5" dy="0.34em" text-anchor="end">DENV 1 2019044</text>
<text transform="rotate(-56.45 577.3 572.5)" x="163.8" y="572.5" dy="0.34em" text-anchor="end">DENV 1 2019021</text>
<text transform="rotate(-55.35 577.3 572.5)" x="163.8" y="572.5" dy="0.34em" text-anchor="end">DENV 1 2019033</text>
<text transform="rotate(-54.24 577.3 572.5)" x="163.8" y="572.5" dy="0.34em" text-anchor="end">DENV 1 2019046</text>
<text transform="rotate(-53.13 577.3 572.5)" x="163.8" y="572.5" dy="0.34em" text-anchor="end">DENV 1 2019015</text>
<text transform="rotate(-52.03 577.3 572.5)" x="163.8" y="572.5" dy="0.34em" text-anchor="end">DENV 1 2019106</text>
<text transform="rotate(-50.92 577.3 572.5)" x="163.8" y="572.5" dy="0.34em" text-anchor="end">DENV 1 2019107</text>
<text transform="rotate(-49.81 577.3 572.5)" x="163.8" y="572.5" dy="0.34em" text-anchor="end">DENV 1 2019111</text>
<text transform="rotate(-48.7 577.3 572.5)" x="163.8" y="572.5" dy="0.34em" text-anchor="end">DENV 1 2019090</text>
<text transform="rotate(-47.6 577.3 572.5)" x="163.8" y="572.5" dy="0.34em" text-anchor="end">DENV 1 2019192</text>
<text transform="rotate(-46.49 577.3 572.5)" x="163.8" y="572.5" dy="0.34em" text-anchor="end">DENV 1 2019204</text>
<text transform="rotate(-45.38 577.3 572.5)" x="163.8" y="572.5" dy="0.34em" text-anchor="end">DENV 1 2019083</text>
<text transform="rotate(-44.27 577.3 572.5)" x="163.8" y="572.5" dy="0.34em" text-anchor="end">DENV 1 2019108</text>
<text transform="rotate(-43.17 577.3 572.5)" x="163.8" y="572.5" dy="0.34em" text-anchor="end">DENV 1 2019109</text>
<text transform="rotate(-42.06 577.3 572.5)" x="163.8" y="572.5" dy="0.34em" text-anchor="end">DENV 1 2019116</text>
<text transform="rotate(-40.95 577.3 572.5)" x="163.8" y="572.5" dy="0.34em" text-anchor="end">OM281586 Thailand 2019</text>
<text transform="rotate(-39.85 577.3 572.5)" x="163.8" y="572.5" dy="0.34em" text-anchor="end">PQ357572 Cambodia 2018</text>
<text transform="rotate(-38.74 577.3 572.5)" x="163.8" y="572.5" dy="0.34em" text-anchor="end">OK159962 Cambodia 2019</text>
<text transform="rotate(-37.63 577.3 572.5)" x="163.8" y="572.5" dy="0.34em" text-anchor="end">DENV 1 2019010</text>
<text transform="rotate(-36.52 577.3 572.5)" x="163.8" y="572.5" dy="0.34em" text-anchor="end">PQ614030 Cambodia 2019</text>
<text transform="rotate(-35.42 577.3 572.5)" x="163.8" y="572.5" dy="0.34em" text-anchor="end">MN921611 China 2019</text>
<text transform="rotate(-34.31 577.3 572.5)" x="163.8" y="572.5" dy="0.34em" text-anchor="end">MW014042 Cambodia 2019</text>
<text transform="rotate(-33.2 577.3 572.5)" x="163.8" y="572.5" dy="0.34em" text-anchor="end">MN921431 China 2019</text>
<text transform="rotate(-32.09 577.3 572.5)" x="163.8" y="572.5" dy="0.34em" text-anchor="end">MN921503 China 2019</text>
<text transform="rotate(-30.99 577.3 572.5)" x="163.8" y="572.5" dy="0.34em" text-anchor="end">OK159945 Cambodia 2019</text>
<text transform="rotate(-29.88 577.3 572.5)" x="163.8" y="572.5" dy="0.34em" text-anchor="end">MN921446 China 2019</text>
<text transform="rotate(-28.77 577.3 572.5)" x="163.8" y="572.5" dy="0.34em" text-anchor="end">MN921554 China 2019</text>
<text transform="rotate(-27.67 577.3 572.5)" x="163.8" y="572.5" dy="0.34em" text-anchor="end">MN921532 China 2019</text>
<text transform="rotate(-26.56 577.3 572.5)" x="163.8" y="572.5" dy="0.34em" text-anchor="end">DENV 1 2019016</text>
<text transform="rotate(-25.45 577.3 572.5)" x="163.8" y="572.5" dy="0.34em" text-anchor="end">ON908219 Cambodia 2019</text>
<text transform="rotate(-24.34 577.3 572.5)" x="163.8" y="572.5" dy="0.34em" text-anchor="end">MT856298 China 2019</text>
<text transform="rotate(-23.24 577.3 572.5)" x="163.8" y="572.5" dy="0.34em" text-anchor="end">PQ357560 Cambodia 2019</text>
<text transform="rotate(-22.13 577.3 572.5)" x="163.8" y="572.5" dy="0.34em" text-anchor="end">DENV 1 2019056</text>
<text transform="rotate(-21.02 577.3 572.5)" x="163.8" y="572.5" dy="0.34em" text-anchor="end">MN921590 China 2019</text>
<text transform="rotate(-19.91 577.3 572.5)" x="163.8" y="572.5" dy="0.34em" text-anchor="end">MN921362 China 2019</text>
<text transform="rotate(-18.81 577.3 572.5)" x="163.8" y="572.5" dy="0.34em" text-anchor="end">DENV 1 2019006</text>
<text transform="rotate(-17.7 577.3 572.5)" x="163.8" y="572.5" dy="0.34em" text-anchor="end">MN921400 China 2019</text>
<text transform="rotate(-16.59 577.3 572.5)" x="163.8" y="572.5" dy="0.34em" text-anchor="end">DENV 1 2019053</text>
<text transform="rotate(-15.49 577.3 572.5)" x="163.8" y="572.5" dy="0.34em" text-anchor="end">DENV 1 2019086</text>
<text transform="rotate(-14.38 577.3 572.5)" x="163.8" y="572.5" dy="0.34em" text-anchor="end">DENV 1 2019008</text>
<text transform="rotate(-13.27 577.3 572.5)" x="163.8" y="572.5" dy="0.34em" text-anchor="end">DENV 1 2019012</text>
<text transform="rotate(-12.16 577.3 572.5)" x="163.8" y="572.5" dy="0.34em" text-anchor="end">DENV 1 2019051</text>
<text transform="rotate(-11.06 577.3 572.5)" x="163.8" y="572.5" dy="0.34em" text-anchor="end">DENV 1 2019210</text>
<text transform="rotate(-9.95 577.3 572.5)" x="163.8" y="572.5" dy="0.34em" text-anchor="end">DENV 1 2019054</text>
<text transform="rotate(-8.84 577.3 572.5)" x="163.8" y="572.5" dy="0.34em" text-anchor="end">PQ357565 Cambodia 2019</text>
<text transform="rotate(-7.74 577.3 572.5)" x="163.8" y="572.5" dy="0.34em" text-anchor="end">MN921265 China 2019</text>
<text transform="rotate(-6.63 577.3 572.5)" x="163.8" y="572.5" dy="0.34em" text-anchor="end">MN921334 China 2019</text>
<text transform="rotate(-5.52 577.3 572.5)" x="163.8" y="572.5" dy="0.34em" text-anchor="end">MN921300 China 2019</text>
<text transform="rotate(-4.41 577.3 572.5)" x="163.8" y="572.5" dy="0.34em" text-anchor="end">DENV 1 2019030</text>
<text transform="rotate(-3.31 577.3 572.5)" x="163.8" y="572.5" dy="0.34em" text-anchor="end">MW582815 China 2019</text>
<text transform="rotate(-2.2 577.3 572.5)" x="163.8" y="572.5" dy="0.34em" text-anchor="end">DENV 1 2019198</text>
<text transform="rotate(-1.09 577.3 572.5)" x="163.8" y="572.5" dy="0.34em" text-anchor="end">DENV 1 2019191</text>
<text transform="rotate(0.02 577.3 572.5)" x="163.8" y="572.5" dy="0.34em" text-anchor="end">DENV 1 2019190</text>
<text transform="rotate(1.12 577.3 572.5)" x="163.8" y="572.5" dy="0.34em" text-anchor="end">DENV 1 2019188</text>
<text transform="rotate(2.23 577.3 572.5)" x="163.8" y="572.5" dy="0.34em" text-anchor="end">DENV 1 2019183</text>
<text transform="rotate(3.34 577.3 572.5)" x="163.8" y="572.5" dy="0.34em" text-anchor="end">DENV 1 2019187</text>
<text transform="rotate(4.44 577.3 572.5)" x="163.8" y="572.5" dy="0.34em" text-anchor="end">DENV 1 2019119</text>
<text transform="rotate(5.55 577.3 572.5)" x="163.8" y="572.5" dy="0.34em" text-anchor="end">DENV 1 2019110</text>
<text transform="rotate(6.66 577.3 572.5)" x="163.8" y="572.5" dy="0.34em" text-anchor="end">DENV 1 2019115</text>
<text transform="rotate(7.77 577.3 572.5)" x="163.8" y="572.5" dy="0.34em" text-anchor="end">DENV 1 2019047</text>
<text transform="rotate(8.87 577.3 572.5)" x="163.8" y="572.5" dy="0.34em" text-anchor="end">DENV 1 2019023</text>
<text transform="rotate(9.98 577.3 572.5)" x="163.8" y="572.5" dy="0.34em" text-anchor="end">DENV 1 2019035</text>
<text transform="rotate(11.09 577.3 572.5)" x="163.8" y="572.5" dy="0.34em" text-anchor="end">MW582703 China 2019</text>
<text transform="rotate(12.2 577.3 572.5)" x="163.8" y="572.5" dy="0.34em" text-anchor="end">DENV 1 2019050</text>
<text transform="rotate(13.3 577.3 572.5)" x="163.8" y="572.5" dy="0.34em" text-anchor="end">DENV 1 2019041</text>
<text transform="rotate(14.41 577.3 572.5)" x="163.8" y="572.5" dy="0.34em" text-anchor="end">DENV 1 2019043</text>
<text transform="rotate(15.52 577.3 572.5)" x="163.8" y="572.5" dy="0.34em" text-anchor="end">DENV 1 2019034</text>
<text transform="rotate(16.62 577.3 572.5)" x="163.8" y="572.5" dy="0.34em" text-anchor="end">DENV 1 2019113</text>
<text transform="rotate(17.73 577.3 572.5)" x="163.8" y="572.5" dy="0.34em" text-anchor="end">DENV 1 2019087</text>
<text transform="rotate(18.84 577.3 572.5)" x="163.8" y="572.5" dy="0.34em" text-anchor="end">DENV 1 2019042</text>
<text transform="rotate(19.95 577.3 572.5)" x="163.8" y="572.5" dy="0.34em" text-anchor="end">DENV 1 2019089</text>
</g>
<rect transform="rotate(319.67 577.3 572.5)" x="1130.2" y="568.2" width="8.8" height="8.6" fill="#3a4a9b"/>
<rect transform="rotate(351.78 577.3 572.5)" x="1130.2" y="568.2" width="8.8" height="8.6" fill="#3a4a9b"/>
<rect transform="rotate(414.9 577.3 572.5)" x="1130.2" y="568.2" width="8.8" height="8.6" fill="#3a4a9b"/>
<rect transform="rotate(450.33 577.3 572.5)" x="1130.2" y="568.2" width="8.8" height="8.6" fill="#3a4a9b"/>
<rect transform="rotate(451.44 577.3 572.5)" x="1130.2" y="568.2" width="8.8" height="8.6" fill="#3a4a9b"/>
<rect transform="rotate(452.54 577.3 572.5)" x="1130.2" y="568.2" width="8.8" height="8.6" fill="#3a4a9b"/>
<rect transform="rotate(460.29 577.3 572.5)" x="1130.2" y="568.2" width="8.8" height="8.6" fill="#3a4a9b"/>
<rect transform="rotate(473.58 577.3 572.5)" x="1130.2" y="568.2" width="8.8" height="8.6" fill="#3a4a9b"/>
<rect transform="rotate(481.33 577.3 572.5)" x="1130.2" y="568.2" width="8.8" height="8.6" fill="#3a4a9b"/>
<rect transform="rotate(482.44 577.3 572.5)" x="1130.2" y="568.2" width="8.8" height="8.6" fill="#3a4a9b"/>
<rect transform="rotate(483.55 577.3 572.5)" x="1130.2" y="568.2" width="8.8" height="8.6" fill="#3a4a9b"/>
<rect transform="rotate(484.65 577.3 572.5)" x="1130.2" y="568.2" width="8.8" height="8.6" fill="#3a4a9b"/>
<rect transform="rotate(485.76 577.3 572.5)" x="1130.2" y="568.2" width="8.8" height="8.6" fill="#3a4a9b"/>
<rect transform="rotate(486.87 577.3 572.5)" x="1130.2" y="568.2" width="8.8" height="8.6" fill="#3a4a9b"/>
<rect transform="rotate(487.97 577.3 572.5)" x="1130.2" y="568.2" width="8.8" height="8.6" fill="#3a4a9b"/>
<rect transform="rotate(489.08 577.3 572.5)" x="1130.2" y="568.2" width="8.8" height="8.6" fill="#3a4a9b"/>
<rect transform="rotate(490.19 577.3 572.5)" x="1130.2" y="568.2" width="8.8" height="8.6" fill="#3a4a9b"/>
<rect transform="rotate(491.3 577.3 572.5)" x="1130.2" y="568.2" width="8.8" height="8.6" fill="#3a4a9b"/>
<rect transform="rotate(492.4 577.3 572.5)" x="1130.2" y="568.2" width="8.8" height="8.6" fill="#3a4a9b"/>
<rect transform="rotate(493.51 577.3 572.5)" x="1130.2" y="568.2" width="8.8" height="8.6" fill="#3a4a9b"/>
<rect transform="rotate(494.62 577.3 572.5)" x="1130.2" y="568.2" width="8.8" height="8.6" fill="#3a4a9b"/>
<rect transform="rotate(495.73 577.3 572.5)" x="1130.2" y="568.2" width="8.8" height="8.6" fill="#3a4a9b"/>
<rect transform="rotate(496.83 577.3 572.5)" x="1130.2" y="568.2" width="8.8" height="8.6" fill="#3a4a9b"/>
<rect transform="rotate(497.94 577.3 572.5)" x="1130.2" y="568.2" width="8.8" height="8.6" fill="#3a4a9b"/>
<rect transform="rotate(502.37 577.3 572.5)" x="1130.2" y="568.2" width="8.8" height="8.6" fill="#3a4a9b"/>
<rect transform="rotate(513.44 577.3 572.5)" x="1130.2" y="568.2" width="8.8" height="8.6" fill="#3a4a9b"/>
<rect transform="rotate(517.87 577.3 572.5)" x="1130.2" y="568.2" width="8.8" height="8.6" fill="#3a4a9b"/>
<rect transform="rotate(521.19 577.3 572.5)" x="1130.2" y="568.2" width="8.8" height="8.6" fill="#3a4a9b"/>
<rect transform="rotate(523.41 577.3 572.5)" x="1130.2" y="568.2" width="8.8" height="8.6" fill="#3a4a9b"/>
<rect transform="rotate(524.51 577.3 572.5)" x="1130.2" y="568.2" width="8.8" height="8.6" fill="#3a4a9b"/>
<rect transform="rotate(525.62 577.3 572.5)" x="1130.2" y="568.2" width="8.8" height="8.6" fill="#3a4a9b"/>
<rect transform="rotate(526.73 577.3 572.5)" x="1130.2" y="568.2" width="8.8" height="8.6" fill="#3a4a9b"/>
<rect transform="rotate(527.84 577.3 572.5)" x="1130.2" y="568.2" width="8.8" height="8.6" fill="#3a4a9b"/>
<rect transform="rotate(528.94 577.3 572.5)" x="1130.2" y="568.2" width="8.8" height="8.6" fill="#3a4a9b"/>
<rect transform="rotate(530.05 577.3 572.5)" x="1130.2" y="568.2" width="8.8" height="8.6" fill="#3a4a9b"/>
<rect transform="rotate(535.59 577.3 572.5)" x="1130.2" y="568.2" width="8.8" height="8.6" fill="#3a4a9b"/>
<rect transform="rotate(537.8 577.3 572.5)" x="1130.2" y="568.2" width="8.8" height="8.6" fill="#3a4a9b"/>
<rect transform="rotate(538.91 577.3 572.5)" x="1130.2" y="568.2" width="8.8" height="8.6" fill="#3a4a9b"/>
<rect transform="rotate(540.02 577.3 572.5)" x="1130.2" y="568.2" width="8.8" height="8.6" fill="#3a4a9b"/>
<rect transform="rotate(541.12 577.3 572.5)" x="1130.2" y="568.2" width="8.8" height="8.6" fill="#3a4a9b"/>
<rect transform="rotate(542.23 577.3 572.5)" x="1130.2" y="568.2" width="8.8" height="8.6" fill="#3a4a9b"/>
<rect transform="rotate(543.34 577.3 572.5)" x="1130.2" y="568.2" width="8.8" height="8.6" fill="#3a4a9b"/>
<rect transform="rotate(544.44 577.3 572.5)" x="1130.2" y="568.2" width="8.8" height="8.6" fill="#3a4a9b"/>
<rect transform="rotate(545.55 577.3 572.5)" x="1130.2" y="568.2" width="8.8" height="8.6" fill="#3a4a9b"/>
<rect transform="rotate(546.66 577.3 572.5)" x="1130.2" y="568.2" width="8.8" height="8.6" fill="#3a4a9b"/>
<rect transform="rotate(547.77 577.3 572.5)" x="1130.2" y="568.2" width="8.8" height="8.6" fill="#3a4a9b"/>
<rect transform="rotate(548.87 577.3 572.5)" x="1130.2" y="568.2" width="8.8" height="8.6" fill="#3a4a9b"/>
<rect transform="rotate(549.98 577.3 572.5)" x="1130.2" y="568.2" width="8.8" height="8.6" fill="#3a4a9b"/>
<rect transform="rotate(552.2 577.3 572.5)" x="1130.2" y="568.2" width="8.8" height="8.6" fill="#3a4a9b"/>
<rect transform="rotate(553.3 577.3 572.5)" x="1130.2" y="568.2" width="8.8" height="8.6" fill="#3a4a9b"/>
<rect transform="rotate(554.41 577.3 572.5)" x="1130.2" y="568.2" width="8.8" height="8.6" fill="#3a4a9b"/>
<rect transform="rotate(555.52 577.3 572.5)" x="1130.2" y="568.2" width="8.8" height="8.6" fill="#3a4a9b"/>
<rect transform="rotate(556.62 577.3 572.5)" x="1130.2" y="568.2" width="8.8" height="8.6" fill="#3a4a9b"/>
<rect transform="rotate(557.73 577.3 572.5)" x="1130.2" y="568.2" width="8.8" height="8.6" fill="#3a4a9b"/>
<rect transform="rotate(558.84 577.3 572.5)" x="1130.2" y="568.2" width="8.8" height="8.6" fill="#3a4a9b"/>
<rect transform="rotate(559.95 577.3 572.5)" x="1130.2" y="568.2" width="8.8" height="8.6" fill="#3a4a9b"/>
<rect transform="rotate(253.24 577.3 572.5)" x="1141.3" y="568.2" width="8.8" height="8.6" fill="#0b8b45"/>
<rect transform="rotate(260.99 577.3 572.5)" x="1141.3" y="568.2" width="8.8" height="8.6" fill="#0b8b45"/>
<rect transform="rotate(262.09 577.3 572.5)" x="1141.3" y="568.2" width="8.8" height="8.6" fill="#0b8b45"/>
<rect transform="rotate(370.61 577.3 572.5)" x="1141.3" y="568.2" width="8.8" height="8.6" fill="#0b8b45"/>
<rect transform="rotate(371.71 577.3 572.5)" x="1141.3" y="568.2" width="8.8" height="8.6" fill="#0b8b45"/>
<rect transform="rotate(372.82 577.3 572.5)" x="1141.3" y="568.2" width="8.8" height="8.6" fill="#0b8b45"/>
<rect transform="rotate(376.14 577.3 572.5)" x="1141.3" y="568.2" width="8.8" height="8.6" fill="#0b8b45"/>
<rect transform="rotate(377.25 577.3 572.5)" x="1141.3" y="568.2" width="8.8" height="8.6" fill="#0b8b45"/>
<rect transform="rotate(378.36 577.3 572.5)" x="1141.3" y="568.2" width="8.8" height="8.6" fill="#0b8b45"/>
<rect transform="rotate(379.46 577.3 572.5)" x="1141.3" y="568.2" width="8.8" height="8.6" fill="#0b8b45"/>
<rect transform="rotate(380.57 577.3 572.5)" x="1141.3" y="568.2" width="8.8" height="8.6" fill="#0b8b45"/>
<rect transform="rotate(381.68 577.3 572.5)" x="1141.3" y="568.2" width="8.8" height="8.6" fill="#0b8b45"/>
<rect transform="rotate(382.79 577.3 572.5)" x="1141.3" y="568.2" width="8.8" height="8.6" fill="#0b8b45"/>
<rect transform="rotate(383.89 577.3 572.5)" x="1141.3" y="568.2" width="8.8" height="8.6" fill="#0b8b45"/>
<rect transform="rotate(385 577.3 572.5)" x="1141.3" y="568.2" width="8.8" height="8.6" fill="#0b8b45"/>
<rect transform="rotate(386.11 577.3 572.5)" x="1141.3" y="568.2" width="8.8" height="8.6" fill="#0b8b45"/>
<rect transform="rotate(387.21 577.3 572.5)" x="1141.3" y="568.2" width="8.8" height="8.6" fill="#0b8b45"/>
<rect transform="rotate(388.32 577.3 572.5)" x="1141.3" y="568.2" width="8.8" height="8.6" fill="#0b8b45"/>
<rect transform="rotate(389.43 577.3 572.5)" x="1141.3" y="568.2" width="8.8" height="8.6" fill="#0b8b45"/>
<rect transform="rotate(390.54 577.3 572.5)" x="1141.3" y="568.2" width="8.8" height="8.6" fill="#0b8b45"/>
<rect transform="rotate(391.64 577.3 572.5)" x="1141.3" y="568.2" width="8.8" height="8.6" fill="#0b8b45"/>
<rect transform="rotate(392.75 577.3 572.5)" x="1141.3" y="568.2" width="8.8" height="8.6" fill="#0b8b45"/>
<rect transform="rotate(393.86 577.3 572.5)" x="1141.3" y="568.2" width="8.8" height="8.6" fill="#0b8b45"/>
<rect transform="rotate(394.97 577.3 572.5)" x="1141.3" y="568.2" width="8.8" height="8.6" fill="#0b8b45"/>
<rect transform="rotate(396.07 577.3 572.5)" x="1141.3" y="568.2" width="8.8" height="8.6" fill="#0b8b45"/>
<rect transform="rotate(397.18 577.3 572.5)" x="1141.3" y="568.2" width="8.8" height="8.6" fill="#0b8b45"/>
<rect transform="rotate(398.29 577.3 572.5)" x="1141.3" y="568.2" width="8.8" height="8.6" fill="#0b8b45"/>
<rect transform="rotate(399.39 577.3 572.5)" x="1141.3" y="568.2" width="8.8" height="8.6" fill="#0b8b45"/>
<rect transform="rotate(400.5 577.3 572.5)" x="1141.3" y="568.2" width="8.8" height="8.6" fill="#0b8b45"/>
<rect transform="rotate(401.61 577.3 572.5)" x="1141.3" y="568.2" width="8.8" height="8.6" fill="#0b8b45"/>
<rect transform="rotate(402.72 577.3 572.5)" x="1141.3" y="568.2" width="8.8" height="8.6" fill="#0b8b45"/>
<rect transform="rotate(403.82 577.3 572.5)" x="1141.3" y="568.2" width="8.8" height="8.6" fill="#0b8b45"/>
<rect transform="rotate(404.93 577.3 572.5)" x="1141.3" y="568.2" width="8.8" height="8.6" fill="#0b8b45"/>
<rect transform="rotate(406.04 577.3 572.5)" x="1141.3" y="568.2" width="8.8" height="8.6" fill="#0b8b45"/>
<rect transform="rotate(407.15 577.3 572.5)" x="1141.3" y="568.2" width="8.8" height="8.6" fill="#0b8b45"/>
<rect transform="rotate(408.25 577.3 572.5)" x="1141.3" y="568.2" width="8.8" height="8.6" fill="#0b8b45"/>
<rect transform="rotate(409.36 577.3 572.5)" x="1141.3" y="568.2" width="8.8" height="8.6" fill="#0b8b45"/>
<polygon points="410.28,13.81 411.48,16.95 414.84,17.13 412.23,19.24 413.1,22.49 410.28,20.66 407.45,22.49 408.33,19.24 405.71,17.13 409.07,16.95" fill="#f00000"/>
<polygon points="910.32,1042.07 911.52,1045.21 914.88,1045.38 912.27,1047.5 913.14,1050.75 910.32,1048.92 907.5,1050.75 908.37,1047.5 905.75,1045.38 909.11,1045.21" fill="#f00000"/>
<polygon points="276.18,1062.95 277.38,1066.09 280.74,1066.27 278.13,1068.39 279,1071.64 276.18,1069.8 273.36,1071.64 274.23,1068.39 271.61,1066.27 274.97,1066.09" fill="#f00000"/>
<polygon points="266.67,1057.04 267.88,1060.18 271.24,1060.36 268.62,1062.48 269.5,1065.73 266.67,1063.89 263.85,1065.73 264.72,1062.48 262.11,1060.36 265.47,1060.18" fill="#f00000"/>
<polygon points="257.29,1050.95 258.49,1054.09 261.85,1054.26 259.24,1056.38 260.11,1059.63 257.29,1057.8 254.47,1059.63 255.34,1056.38 252.72,1054.26 256.08,1054.09" fill="#f00000"/>
<polygon points="248.02,1044.67 249.23,1047.82 252.59,1047.99 249.97,1050.11 250.84,1053.36 248.02,1051.52 245.2,1053.36 246.07,1050.11 243.46,1047.99 246.82,1047.82" fill="#f00000"/>
<polygon points="238.88,1038.22 240.08,1041.36 243.44,1041.54 240.83,1043.66 241.7,1046.91 238.88,1045.07 236.06,1046.91 236.93,1043.66 234.31,1041.54 237.67,1041.36" fill="#f00000"/>
<polygon points="229.86,1031.59 231.06,1034.74 234.42,1034.91 231.81,1037.03 232.68,1040.28 229.86,1038.44 227.04,1040.28 227.91,1037.03 225.29,1034.91 228.65,1034.74" fill="#f00000"/>
<polygon points="220.97,1024.79 222.18,1027.94 225.54,1028.11 222.92,1030.23 223.79,1033.48 220.97,1031.64 218.15,1033.48 219.02,1030.23 216.41,1028.11 219.77,1027.94" fill="#f00000"/>
<polygon points="212.22,1017.82 213.42,1020.96 216.78,1021.14 214.17,1023.26 215.04,1026.51 212.22,1024.67 209.4,1026.51 210.27,1023.26 207.65,1021.14 211.01,1020.96" fill="#f00000"/>
<polygon points="203.6,1010.68 204.8,1013.83 208.16,1014 205.55,1016.12 206.42,1019.37 203.6,1017.53 200.78,1019.37 201.65,1016.12 199.03,1014 202.39,1013.83" fill="#f00000"/>
<polygon points="186.78,995.91 187.99,999.06 191.35,999.23 188.73,1001.35 189.6,1004.6 186.78,1002.76 183.96,1004.6 184.83,1001.35 182.22,999.23 185.58,999.06" fill="#f00000"/>
<polygon points="178.59,988.29 179.8,991.43 183.16,991.6 180.54,993.72 181.41,996.97 178.59,995.14 175.77,996.97 176.64,993.72 174.03,991.6 177.39,991.43" fill="#f00000"/>
<polygon points="170.55,980.5 171.76,983.65 175.12,983.82 172.5,985.94 173.37,989.19 170.55,987.35 167.73,989.19 168.6,985.94 165.99,983.82 169.35,983.65" fill="#f00000"/>
<polygon points="162.66,972.57 163.87,975.71 167.23,975.88 164.61,978 165.48,981.25 162.66,979.42 159.84,981.25 160.71,978 158.1,975.88 161.46,975.71" fill="#f00000"/>
<polygon points="154.93,964.48 156.13,967.62 159.49,967.8 156.88,969.91 157.75,973.16 154.93,971.33 152.11,973.16 152.98,969.91 150.36,967.8 153.72,967.62" fill="#f00000"/>
<polygon points="147.35,956.24 148.56,959.39 151.92,959.56 149.3,961.68 150.17,964.93 147.35,963.09 144.53,964.93 145.4,961.68 142.79,959.56 146.15,959.39" fill="#f00000"/>
<polygon points="8.95,679.36 10.15,682.5 13.51,682.68 10.9,684.79 11.77,688.04 8.95,686.21 6.13,688.04 7,684.79 4.38,682.68 7.74,682.5" fill="#f00000"/>
<g font-family="Liberation Serif, serif" fill="#111">
<text x="1257.5" y="271.2" font-size="23" font-weight="bold">Genotype</text>
<rect x="1258.3" y="303.3" width="70" height="10.3" rx="3.2" ry="3.2" fill="#e64b35" stroke="#3a3a3a" stroke-width="0.9"/>
<rect x="1258.3" y="352.3" width="70" height="10.3" rx="3.2" ry="3.2" fill="#00a087" stroke="#3a3a3a" stroke-width="0.9"/>
<rect x="1258.3" y="401.2" width="70" height="10.3" rx="3.2" ry="3.2" fill="#3c5488" stroke="#3a3a3a" stroke-width="0.9"/>
<rect x="1258.3" y="450.2" width="70" height="10.3" rx="3.2" ry="3.2" fill="#f39b7f" stroke="#3a3a3a" stroke-width="0.9"/>
<text x="1370" y="313.3" font-size="23">genotype IV</text>
<text x="1370.5" y="362" font-size="23">genotype III</text>
<text x="1370.5" y="410.5" font-size="23" xml:space="preserve">genotype  V</text>
<text x="1372" y="458" font-size="23" xml:space="preserve">genotype   I</text>
<text x="1255.8" y="503.2" font-size="23" font-weight="bold">Sample sequence</text>
<rect x="1258.2" y="533.3" width="35.3" height="35.2" rx="3.5" ry="3.5" fill="#3a4a9b" stroke="#3a3a3a" stroke-width="0.9"/>
<rect x="1258.2" y="580.0" width="35.3" height="35.2" rx="3.5" ry="3.5" fill="#0b8b45" stroke="#3a3a3a" stroke-width="0.9"/>
<path d="M1277.46,633.1L1279.63,637.42Q1280.77,639.68 1283.28,640.06L1288.05,640.8Q1292.15,641.42 1289.2,644.34L1285.77,647.74Q1283.97,649.52 1284.38,652.02L1285.16,656.79Q1285.83,660.88 1282.15,658.98L1277.85,656.76Q1275.6,655.6 1273.35,656.76L1269.05,658.98Q1265.37,660.88 1266.04,656.79L1266.82,652.02Q1267.23,649.52 1265.43,647.74L1262,644.34Q1259.05,641.42 1263.15,640.8L1267.92,640.06Q1270.43,639.68 1271.57,637.42L1273.74,633.1Q1275.6,629.4 1277.46,633.1Z" fill="#f00808" stroke="#3a2525" stroke-width="1.3" stroke-linejoin="round"/>
<text x="1323.7" y="559" font-size="23">sequence in <tspan font-size="24" dx="1.2">2019</tspan></text>
<text x="1323.7" y="605.2" font-size="23">sequence in <tspan font-size="24" dx="1.2">2024</tspan></text>
<text x="1323.7" y="654.8" font-size="23">recombinant sequence</text>
<text x="1254.2" y="702.2" font-size="23" font-weight="bold">Lineage</text>
<rect x="1258.2" y="736.3" width="35.3" height="35.2" rx="3.5" ry="3.5" fill="#dadaeb" stroke="#3a3a3a" stroke-width="0.9"/>
<rect x="1258.2" y="782.8" width="35.3" height="35.2" rx="3.5" ry="3.5" fill="#fdd0a2" stroke="#3a3a3a" stroke-width="0.9"/>
<text x="1318.3" y="759" font-size="23">E</text>
<text x="1317.4" y="804.8" font-size="23">K</text>
</g>
</svg>
</body></html>
